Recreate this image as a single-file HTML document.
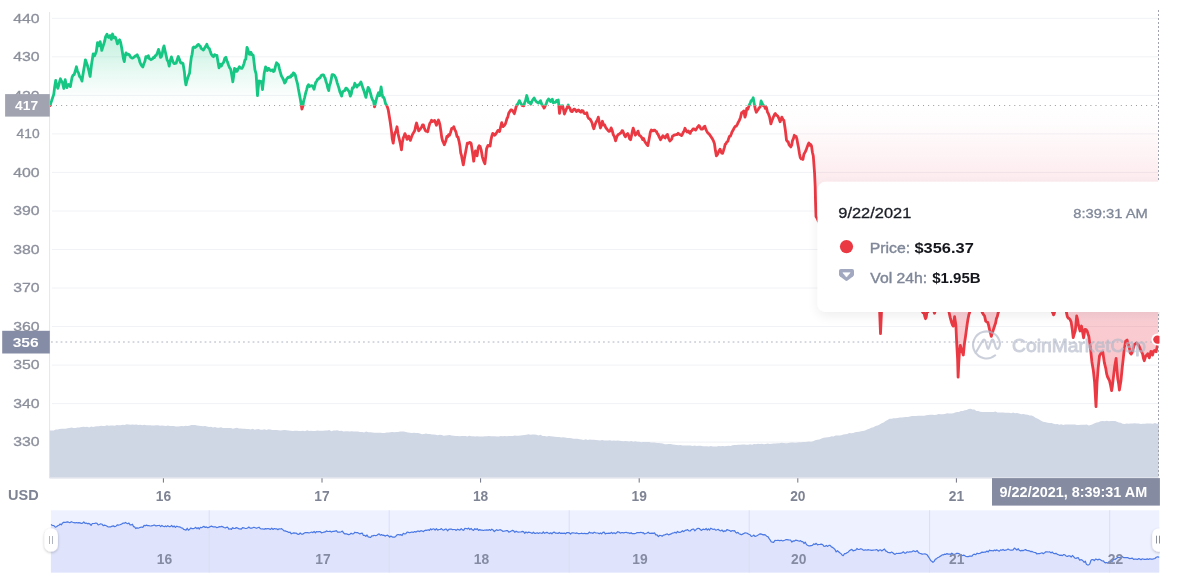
<!DOCTYPE html><html><head><meta charset="utf-8"><title>chart</title>
<style>html,body{margin:0;padding:0;background:#fff;}body{width:1178px;height:579px;overflow:hidden;font-family:"Liberation Sans",sans-serif;}svg{display:block}text{font-family:"Liberation Sans",sans-serif;}svg{will-change:transform;}</style></head><body>
<svg width="1178" height="579" viewBox="0 0 1178 579">
<defs>
<linearGradient id="gg" gradientUnits="userSpaceOnUse" x1="0" y1="30" x2="0" y2="105.5"><stop offset="0" stop-color="#16c784" stop-opacity="0.28"/><stop offset="0.55" stop-color="#16c784" stop-opacity="0.105"/><stop offset="0.85" stop-color="#16c784" stop-opacity="0.02"/><stop offset="1" stop-color="#16c784" stop-opacity="0"/></linearGradient>
<linearGradient id="rg" gradientUnits="userSpaceOnUse" x1="0" y1="105.5" x2="0" y2="408"><stop offset="0" stop-color="#ea3958" stop-opacity="0"/><stop offset="0.06" stop-color="#ea3958" stop-opacity="0.012"/><stop offset="0.23" stop-color="#ea3958" stop-opacity="0.092"/><stop offset="0.71" stop-color="#ea3950" stop-opacity="0.25"/><stop offset="1" stop-color="#ea3943" stop-opacity="0.33"/></linearGradient>
<clipPath id="cu"><rect x="50.0" y="0" width="1108.5" height="105.5"/></clipPath>
<clipPath id="cd"><rect x="50.0" y="105.5" width="1108.5" height="372.5"/></clipPath>
<clipPath id="cp"><rect x="50.0" y="0" width="1109.5" height="478"/></clipPath>
<filter id="sh" x="-10%" y="-20%" width="120%" height="150%"><feGaussianBlur in="SourceAlpha" stdDeviation="6"/><feOffset dx="0" dy="4"/><feComponentTransfer><feFuncA type="linear" slope="0.07"/></feComponentTransfer><feMerge><feMergeNode/><feMergeNode in="SourceGraphic"/></feMerge></filter>
<filter id="sh2" x="-50%" y="-30%" width="200%" height="180%"><feGaussianBlur in="SourceAlpha" stdDeviation="1.5"/><feOffset dx="0" dy="1"/><feComponentTransfer><feFuncA type="linear" slope="0.25"/></feComponentTransfer><feMerge><feMergeNode/><feMergeNode in="SourceGraphic"/></feMerge></filter>
</defs>
<rect width="1178" height="579" fill="#fff"/>
<line x1="52" x2="1158.5" y1="442.1" y2="442.1" stroke="#f1f2f5" stroke-width="1"/>
<line x1="52" x2="1158.5" y1="403.6" y2="403.6" stroke="#f1f2f5" stroke-width="1"/>
<line x1="52" x2="1158.5" y1="365.1" y2="365.1" stroke="#f1f2f5" stroke-width="1"/>
<line x1="52" x2="1158.5" y1="326.5" y2="326.5" stroke="#f1f2f5" stroke-width="1"/>
<line x1="52" x2="1158.5" y1="288.0" y2="288.0" stroke="#f1f2f5" stroke-width="1"/>
<line x1="52" x2="1158.5" y1="249.5" y2="249.5" stroke="#f1f2f5" stroke-width="1"/>
<line x1="52" x2="1158.5" y1="211.0" y2="211.0" stroke="#f1f2f5" stroke-width="1"/>
<line x1="52" x2="1158.5" y1="172.4" y2="172.4" stroke="#f1f2f5" stroke-width="1"/>
<line x1="52" x2="1158.5" y1="133.9" y2="133.9" stroke="#f1f2f5" stroke-width="1"/>
<line x1="52" x2="1158.5" y1="95.4" y2="95.4" stroke="#f1f2f5" stroke-width="1"/>
<line x1="52" x2="1158.5" y1="56.8" y2="56.8" stroke="#f1f2f5" stroke-width="1"/>
<line x1="52" x2="1158.5" y1="18.3" y2="18.3" stroke="#f1f2f5" stroke-width="1"/>
<line x1="49.6" x2="49.6" y1="12" y2="478" stroke="#e4e6ea" stroke-width="1"/>
<path d="M49.8,430.5 L51.8,430.4 L53.7,430.4 L55.7,429.4 L57.7,429.6 L59.6,429.0 L61.6,428.8 L63.6,428.7 L65.6,428.7 L67.5,428.3 L69.5,428.1 L71.5,427.6 L73.4,428.0 L75.4,427.9 L77.4,427.5 L79.3,427.5 L81.3,427.1 L83.3,426.8 L85.2,426.9 L87.2,426.7 L89.2,427.5 L91.1,426.5 L93.1,426.9 L95.1,426.4 L97.0,426.3 L99.0,426.2 L101.0,425.8 L102.9,426.1 L104.9,425.9 L106.9,425.3 L108.9,425.8 L110.8,425.6 L112.8,425.5 L114.8,425.7 L116.8,425.1 L118.7,425.2 L120.7,425.2 L122.7,424.7 L124.7,425.1 L126.6,424.3 L128.6,424.5 L130.6,424.8 L132.5,424.5 L134.5,424.8 L136.4,424.5 L138.4,425.0 L140.4,424.7 L142.3,425.2 L144.3,424.8 L146.2,425.3 L148.2,425.2 L150.2,425.3 L152.1,425.4 L154.1,425.5 L156.0,425.2 L158.0,425.3 L160.0,425.7 L162.0,425.6 L164.0,425.8 L166.0,426.1 L167.9,425.6 L169.9,426.0 L171.9,426.1 L173.9,426.1 L175.9,426.6 L177.9,426.6 L179.8,426.2 L181.7,426.0 L183.6,426.3 L185.5,425.8 L187.4,425.9 L189.3,425.7 L191.2,425.0 L193.1,425.0 L195.0,425.1 L197.0,425.4 L199.0,425.7 L201.0,426.0 L203.0,426.3 L205.0,426.1 L207.0,426.4 L209.0,426.9 L211.0,426.8 L213.0,427.4 L215.0,427.0 L217.0,427.7 L219.0,427.7 L221.0,427.3 L223.0,428.1 L224.9,428.1 L226.9,428.1 L228.9,427.9 L230.9,428.1 L232.9,428.7 L234.9,428.2 L236.9,427.7 L238.9,428.4 L240.8,428.4 L242.8,428.8 L244.8,428.8 L246.8,428.9 L248.8,428.9 L250.7,429.4 L252.7,428.8 L254.7,429.8 L256.6,429.2 L258.6,429.1 L260.6,429.7 L262.5,429.7 L264.5,429.3 L266.5,429.9 L268.4,429.3 L270.4,429.6 L272.4,430.1 L274.3,429.9 L276.3,429.9 L278.4,430.2 L280.4,430.4 L282.5,430.2 L284.5,429.9 L286.6,430.3 L288.6,430.6 L290.7,430.8 L292.8,431.1 L294.8,430.7 L296.9,430.7 L298.9,430.9 L301.0,431.1 L303.0,430.7 L305.0,431.3 L307.1,430.2 L309.1,431.1 L311.1,430.7 L313.1,430.9 L315.2,431.0 L317.2,430.5 L319.2,430.7 L321.2,430.8 L323.3,430.8 L325.3,430.4 L327.3,430.4 L329.3,430.1 L331.4,431.2 L333.4,430.5 L335.4,430.5 L337.4,430.3 L339.5,431.0 L341.5,430.7 L343.6,431.4 L345.6,431.3 L347.7,431.3 L349.8,431.6 L351.8,431.2 L353.9,431.5 L355.9,431.6 L357.9,431.6 L360.0,432.0 L362.1,432.0 L364.1,432.5 L366.2,431.4 L368.2,432.2 L370.3,432.2 L372.4,432.4 L374.4,432.7 L376.5,432.8 L378.5,432.8 L380.6,432.7 L382.6,433.0 L384.7,433.0 L386.6,432.4 L388.5,432.6 L390.4,432.2 L392.3,432.0 L394.3,432.2 L396.2,432.0 L398.1,431.9 L400.0,431.4 L401.9,431.5 L403.9,431.5 L405.9,432.1 L407.9,432.4 L409.9,432.8 L411.9,433.0 L414.0,432.7 L416.0,433.0 L418.0,433.1 L420.0,433.6 L422.0,434.3 L424.0,434.1 L426.0,433.6 L427.9,433.9 L429.9,434.1 L431.9,434.6 L433.9,434.6 L435.8,434.8 L437.8,435.3 L439.8,434.8 L441.8,434.9 L443.7,435.8 L445.7,435.5 L447.7,435.3 L449.7,435.1 L451.6,435.4 L453.6,435.7 L455.6,436.0 L457.5,436.0 L459.5,436.2 L461.4,436.0 L463.4,435.9 L465.4,435.9 L467.3,436.6 L469.3,435.7 L471.2,436.2 L473.2,436.2 L475.2,436.4 L477.1,436.2 L479.1,436.5 L481.0,436.6 L483.0,436.4 L485.0,436.3 L487.0,436.3 L488.9,436.1 L490.9,436.2 L492.9,436.2 L494.9,436.3 L496.9,436.5 L498.8,436.5 L500.8,436.0 L502.8,436.2 L504.8,436.1 L506.8,436.2 L508.7,436.0 L510.7,436.0 L512.7,435.9 L514.7,435.6 L516.6,435.8 L518.6,435.8 L520.6,435.5 L522.5,435.3 L524.5,435.1 L526.5,434.8 L528.5,434.3 L530.4,434.8 L532.4,434.5 L534.4,434.6 L536.5,434.7 L538.5,435.4 L540.6,434.8 L542.6,435.9 L544.7,435.9 L546.8,436.5 L548.8,435.9 L550.9,436.3 L552.9,436.4 L555.0,436.7 L557.0,436.9 L559.0,436.9 L561.1,437.6 L563.1,437.3 L565.2,437.6 L567.2,438.1 L569.3,438.0 L571.4,438.2 L573.4,438.7 L575.5,438.7 L577.5,438.7 L579.6,439.2 L581.6,439.4 L583.6,439.9 L585.7,439.3 L587.8,439.9 L589.8,439.5 L591.9,439.7 L593.9,439.8 L596.0,440.1 L598.0,440.3 L600.1,440.6 L602.1,440.1 L604.2,440.6 L606.2,440.5 L608.1,440.6 L610.0,440.3 L611.9,440.8 L613.9,440.5 L615.8,440.7 L617.7,440.6 L619.6,440.8 L621.6,441.1 L623.5,441.2 L625.5,440.9 L627.4,441.3 L629.4,441.6 L631.4,441.1 L633.3,441.8 L635.3,441.2 L637.2,441.7 L639.2,441.8 L641.2,442.2 L643.1,442.0 L645.1,441.9 L647.0,441.9 L649.0,442.1 L651.0,442.6 L652.9,442.5 L654.9,442.6 L656.9,443.1 L658.8,443.0 L660.8,443.3 L662.8,443.4 L664.7,444.2 L666.7,444.3 L668.7,444.1 L670.6,443.9 L672.6,444.6 L674.6,444.7 L676.5,445.0 L678.5,445.2 L680.5,445.1 L682.5,445.5 L684.6,445.6 L686.6,445.5 L688.6,445.4 L690.6,445.5 L692.7,445.9 L694.7,445.5 L696.7,445.9 L698.7,445.8 L700.8,445.7 L702.8,446.3 L704.8,446.2 L706.8,446.3 L708.9,446.6 L710.9,446.1 L712.9,446.6 L714.9,446.5 L716.8,446.6 L718.8,445.9 L720.7,446.3 L722.7,446.0 L724.7,446.2 L726.6,446.0 L728.6,445.7 L730.5,446.0 L732.5,445.3 L734.5,445.1 L736.4,445.0 L738.4,444.7 L740.3,444.8 L742.3,444.5 L744.3,444.6 L746.2,444.7 L748.2,444.7 L750.1,444.3 L752.1,444.7 L754.1,444.1 L756.0,444.2 L758.0,443.7 L759.9,443.9 L761.9,443.8 L763.9,444.3 L765.8,444.0 L767.8,443.6 L769.7,443.9 L771.7,443.7 L773.7,443.5 L775.6,443.5 L777.6,443.3 L779.6,443.2 L781.5,442.8 L783.5,443.1 L785.5,443.3 L787.4,443.2 L789.4,442.7 L791.4,442.5 L793.3,442.5 L795.3,442.7 L797.2,442.5 L799.2,442.2 L801.2,442.3 L803.1,442.0 L805.1,442.1 L807.1,441.8 L809.0,441.4 L811.0,441.7 L813.1,441.3 L815.2,440.2 L817.3,439.8 L819.4,439.4 L821.5,438.5 L823.6,437.8 L825.7,437.5 L827.7,437.2 L829.6,437.0 L831.6,436.2 L833.5,436.5 L835.5,435.4 L837.5,435.4 L839.4,435.4 L841.4,435.2 L843.3,434.4 L845.3,434.2 L847.3,434.0 L849.2,433.1 L851.2,433.3 L853.2,432.9 L855.1,432.2 L857.1,432.1 L859.1,431.8 L861.1,431.3 L863.0,430.9 L865.0,430.5 L867.1,429.4 L869.2,428.8 L871.3,427.7 L873.4,427.3 L875.5,426.1 L877.6,425.5 L879.7,424.5 L881.7,423.3 L883.6,422.6 L885.6,420.9 L887.5,420.1 L889.5,418.7 L891.5,418.7 L893.6,418.2 L895.6,418.2 L897.7,418.0 L899.7,417.5 L901.8,417.5 L903.8,417.2 L905.8,417.0 L907.9,417.1 L909.9,416.4 L912.0,416.0 L914.0,416.0 L916.0,415.9 L918.1,415.7 L920.1,415.7 L922.2,415.7 L924.2,415.8 L926.3,415.3 L928.4,415.1 L930.4,414.7 L932.5,414.8 L934.5,414.9 L936.6,414.7 L938.6,414.0 L940.7,414.3 L942.8,414.3 L944.9,414.0 L947.0,413.3 L949.1,413.4 L951.2,413.5 L953.3,413.2 L955.2,412.5 L957.1,412.0 L959.0,412.0 L960.9,410.9 L962.9,411.1 L964.8,410.3 L966.7,409.9 L968.6,409.0 L970.5,408.7 L972.5,409.6 L974.4,409.6 L976.4,411.1 L978.3,410.9 L980.3,411.7 L982.2,411.9 L984.1,412.0 L986.0,412.1 L987.9,411.9 L989.8,412.0 L991.7,412.1 L993.6,412.1 L995.5,411.6 L997.4,412.4 L999.4,412.5 L1001.3,412.5 L1003.3,412.4 L1005.2,412.7 L1007.2,412.7 L1009.2,412.8 L1011.1,413.2 L1013.1,412.6 L1015.0,413.2 L1017.0,413.1 L1019.1,413.5 L1021.2,414.3 L1023.3,414.0 L1025.5,414.6 L1027.6,414.8 L1029.7,415.6 L1031.8,415.6 L1033.8,416.4 L1035.9,418.0 L1037.9,418.8 L1039.9,419.9 L1042.0,421.3 L1044.0,422.0 L1045.9,422.3 L1047.8,422.7 L1049.7,423.0 L1051.6,423.0 L1053.6,423.7 L1055.5,424.2 L1057.4,423.9 L1059.3,424.7 L1061.2,424.3 L1063.2,424.9 L1065.1,424.5 L1067.1,424.6 L1069.1,424.6 L1071.0,424.5 L1073.0,424.4 L1075.0,424.6 L1076.9,425.1 L1078.9,425.1 L1080.9,424.7 L1082.8,424.7 L1084.8,424.7 L1086.8,424.6 L1088.7,425.4 L1090.7,425.1 L1092.7,424.2 L1094.6,423.3 L1096.6,422.4 L1098.5,422.2 L1100.5,421.2 L1102.6,420.9 L1104.7,421.3 L1106.8,420.8 L1108.9,421.3 L1111.0,420.9 L1113.1,421.0 L1115.2,421.1 L1117.0,421.8 L1118.9,422.6 L1120.8,422.8 L1122.6,423.8 L1124.6,423.9 L1126.6,423.6 L1128.6,423.7 L1130.7,423.4 L1132.7,423.6 L1134.7,423.3 L1136.7,423.6 L1138.7,423.6 L1140.8,423.9 L1142.8,423.8 L1144.8,423.8 L1146.8,423.5 L1148.8,423.5 L1150.8,423.5 L1152.9,423.7 L1154.9,423.1 L1156.9,423.8 L1158.9,423.4 L1158.5,477.6 L49.8,477.6Z" fill="#cfd6e4"/>
<line x1="49.5" x2="1158.5" y1="478" y2="478" stroke="#d8dce6" stroke-width="1"/>
<path d="M50.0,105.5 L50.9,102.7 L51.7,100.5 L52.8,97.1 L53.8,94.2 L54.7,86.6 L55.7,80.4 L56.7,85.2 L57.8,88.4 L58.6,85.9 L59.5,82.1 L60.4,78.8 L61.4,81.0 L62.4,82.5 L63.8,88.5 L65.2,79.7 L66.1,84.3 L66.9,87.7 L67.8,85.1 L68.7,84.5 L69.5,85.3 L70.4,86.6 L71.2,81.7 L72.1,77.2 L73.1,75.2 L74.2,74.5 L75.3,71.0 L76.4,66.8 L77.5,71.2 L78.5,72.9 L79.6,76.5 L80.8,77.9 L82.0,81.1 L82.8,75.4 L83.7,70.1 L84.5,65.4 L85.4,59.8 L86.5,62.8 L87.7,66.3 L88.9,71.0 L90.1,76.5 L91.5,64.6 L92.3,59.5 L93.2,53.8 L94.6,55.8 L95.4,53.7 L96.3,51.5 L97.5,42.7 L98.9,45.8 L100.1,41.6 L100.9,45.3 L101.8,50.4 L102.8,47.2 L103.9,43.7 L104.7,41.0 L105.6,36.6 L107.0,34.1 L107.9,36.7 L108.7,37.4 L110.1,35.6 L111.3,39.4 L112.5,34.0 L113.9,37.9 L115.3,37.1 L116.3,39.7 L117.4,43.9 L118.5,41.3 L119.6,39.8 L120.6,42.3 L121.7,48.0 L122.5,53.0 L123.4,58.3 L124.3,61.6 L125.1,56.0 L126.0,52.9 L127.1,54.5 L128.3,54.2 L129.4,55.0 L130.6,57.1 L131.8,58.0 L132.9,58.0 L133.8,57.3 L134.6,56.6 L135.5,55.9 L136.4,55.5 L137.2,54.7 L138.1,57.3 L138.9,57.9 L139.8,61.9 L140.8,64.2 L141.9,65.9 L142.9,66.9 L143.9,63.5 L144.9,61.3 L145.9,56.6 L146.7,56.7 L147.6,57.4 L148.4,55.8 L149.3,58.7 L150.2,59.0 L151.0,59.7 L151.9,59.1 L152.8,58.5 L153.6,57.2 L154.5,57.5 L155.4,55.5 L156.2,55.3 L157.3,53.2 L158.5,49.4 L159.5,52.5 L160.5,57.4 L161.4,56.6 L162.3,53.5 L163.1,48.7 L164.0,45.9 L165.0,50.5 L166.1,55.3 L167.1,60.0 L168.1,61.5 L169.2,66.2 L170.3,60.4 L171.4,56.9 L172.3,59.7 L173.1,62.1 L174.0,63.5 L175.0,63.5 L176.1,63.2 L177.2,59.8 L178.3,56.5 L179.4,59.2 L180.4,62.4 L181.3,63.1 L182.1,62.9 L183.0,63.4 L184.4,72.0 L185.1,79.9 L185.9,84.9 L186.9,81.0 L187.8,77.7 L188.7,75.3 L189.6,73.0 L190.4,64.6 L191.3,57.3 L192.1,54.3 L193.0,47.7 L194.0,47.0 L195.0,47.5 L195.9,46.9 L196.8,46.1 L197.7,44.7 L198.5,44.4 L199.4,45.6 L200.3,46.1 L201.1,48.4 L202.2,49.2 L203.4,50.0 L204.2,48.7 L205.1,47.2 L206.0,45.9 L206.8,44.3 L207.7,46.7 L208.5,48.0 L209.4,48.7 L210.3,51.6 L211.2,54.0 L212.3,55.7 L213.5,56.7 L214.6,54.6 L215.8,55.4 L216.9,55.3 L218.0,61.9 L219.0,67.8 L220.1,64.2 L221.3,66.1 L222.5,63.6 L223.6,62.3 L224.8,58.2 L225.9,57.2 L226.8,60.7 L227.6,62.2 L228.5,65.0 L229.6,67.7 L230.7,69.3 L231.8,75.2 L232.8,81.8 L233.7,75.7 L234.5,68.3 L235.4,71.4 L236.3,69.2 L237.1,71.2 L238.3,68.6 L239.4,66.7 L240.6,68.1 L241.8,68.4 L242.9,66.7 L244.0,63.6 L244.9,60.2 L245.8,59.1 L247.0,47.3 L248.1,50.3 L249.2,54.1 L250.1,54.3 L250.9,52.2 L252.1,54.9 L253.2,55.1 L254.1,62.7 L254.9,69.7 L256.1,73.8 L257.5,95.6 L258.3,87.1 L259.1,80.9 L259.9,81.7 L260.8,81.3 L261.7,83.6 L262.5,89.5 L263.4,81.2 L264.2,73.3 L265.6,66.8 L266.5,68.7 L267.4,70.6 L268.2,68.4 L269.1,68.7 L269.9,70.1 L270.8,70.7 L271.7,70.0 L272.5,69.8 L273.4,71.5 L274.3,71.0 L275.4,66.7 L276.5,62.8 L277.5,63.8 L278.6,65.0 L279.4,68.9 L280.3,72.1 L281.4,75.9 L282.6,78.0 L283.6,80.0 L284.6,83.0 L285.5,82.0 L286.4,79.6 L287.2,78.3 L288.1,77.2 L288.9,77.5 L289.8,76.6 L290.7,77.1 L291.5,75.0 L292.4,75.5 L293.3,72.9 L294.1,73.2 L295.3,75.0 L296.4,79.9 L297.4,83.3 L298.4,89.1 L299.3,93.7 L300.2,98.6 L301.0,103.3 L301.9,109.0 L302.8,106.5 L303.6,101.2 L304.7,97.3 L305.7,92.9 L306.6,89.8 L307.5,86.3 L308.5,84.6 L309.5,86.5 L310.5,86.0 L311.6,85.6 L312.6,86.0 L314.0,89.3 L314.9,85.6 L315.7,82.4 L316.6,81.4 L317.4,79.5 L318.3,79.1 L319.2,77.9 L320.0,78.0 L320.9,76.0 L321.8,75.1 L322.6,74.9 L323.5,74.8 L324.4,76.9 L325.2,78.3 L326.1,82.0 L326.9,84.0 L327.8,88.1 L328.7,90.6 L329.5,85.4 L330.4,83.3 L331.3,78.9 L332.1,74.6 L333.2,74.6 L334.4,75.4 L335.4,77.1 L336.4,79.8 L337.3,83.1 L338.2,85.9 L339.0,88.3 L339.9,91.9 L340.8,93.9 L341.6,96.1 L342.7,91.7 L343.7,91.1 L344.8,90.6 L345.9,88.1 L347.1,88.7 L348.2,90.6 L349.2,91.6 L350.3,96.1 L351.3,94.0 L352.3,87.9 L352.5,88.7 L353.7,87.4 L354.8,83.3 L355.9,85.5 L356.9,87.1 L357.9,85.2 L359.0,85.0 L359.9,83.6 L360.9,81.9 L361.9,85.0 L363.0,88.4 L363.9,90.6 L364.9,94.0 L365.9,97.4 L367.0,92.5 L368.1,87.4 L369.3,89.1 L370.4,92.8 L371.4,96.7 L372.5,99.9 L373.5,101.1 L374.5,106.8 L375.6,102.3 L376.8,97.7 L377.6,95.3 L378.5,92.8 L379.7,95.6 L381.1,87.0 L382.0,93.2 L382.8,97.2 L383.7,97.4 L384.5,99.3 L385.6,103.8 L386.6,105.3 L387.5,107.4 L388.3,110.2 L389.2,115.8 L390.1,121.2 L391.5,131.4 L392.3,139.0 L393.2,143.2 L394.0,137.2 L394.9,133.0 L395.9,131.3 L397.0,126.8 L398.1,134.0 L399.2,138.8 L400.3,143.5 L401.5,149.9 L402.3,142.5 L403.2,138.3 L404.1,135.9 L404.9,133.6 L406.0,135.8 L407.0,139.4 L407.9,138.1 L408.7,136.1 L409.6,138.7 L410.4,140.4 L411.5,137.0 L412.5,134.5 L413.6,132.6 L414.8,130.5 L415.6,126.4 L416.5,123.0 L417.6,126.8 L418.7,130.9 L419.8,129.5 L420.8,128.3 L421.7,127.0 L422.5,124.9 L423.4,124.9 L424.5,128.6 L425.6,131.0 L426.7,131.1 L427.7,131.8 L428.8,127.0 L429.8,123.3 L430.7,122.2 L431.5,120.2 L432.6,121.5 L433.8,121.0 L434.6,120.4 L435.5,122.8 L436.4,125.3 L437.4,122.3 L438.4,120.0 L439.2,122.1 L440.0,125.1 L440.9,131.3 L441.7,137.1 L442.6,140.8 L443.5,142.7 L444.3,144.8 L445.2,142.4 L446.0,140.3 L446.9,136.4 L447.8,136.7 L448.6,134.7 L449.5,135.2 L450.6,132.4 L451.7,128.3 L452.8,128.4 L453.8,126.8 L454.9,129.9 L455.9,131.7 L457.0,136.4 L458.1,137.4 L459.0,141.1 L459.9,145.7 L460.7,152.9 L461.6,155.9 L462.5,161.0 L463.3,164.9 L464.4,158.6 L465.6,152.2 L466.4,147.9 L467.3,143.2 L468.3,143.5 L469.4,142.4 L470.2,142.6 L471.1,143.3 L472.0,149.1 L472.8,154.3 L473.7,161.2 L474.5,155.8 L475.4,151.0 L476.3,152.6 L477.1,155.8 L478.3,147.4 L479.2,145.8 L480.1,146.4 L481.2,150.1 L482.3,156.6 L483.2,159.6 L484.0,161.9 L484.9,163.7 L485.8,156.2 L486.6,148.6 L488.0,145.4 L489.1,145.6 L490.1,146.0 L490.9,140.2 L491.8,136.1 L492.7,133.4 L493.5,133.8 L494.4,135.2 L495.3,134.7 L496.1,133.5 L497.0,132.0 L497.9,130.4 L498.7,130.4 L499.6,131.5 L500.6,127.0 L501.7,122.7 L503.0,126.6 L504.2,125.5 L505.3,124.2 L506.1,121.6 L507.0,118.5 L507.9,116.8 L508.7,113.3 L509.8,111.5 L510.8,109.9 L511.8,109.8 L512.9,111.1 L514.3,113.7 L515.1,111.0 L516.0,107.1 L516.9,104.9 L517.7,104.2 L518.6,102.3 L519.4,100.6 L520.3,102.4 L521.2,103.9 L522.0,105.3 L522.9,105.6 L523.8,105.9 L524.6,102.8 L525.5,100.7 L526.7,95.5 L527.6,98.6 L528.4,102.5 L529.6,102.1 L530.7,104.2 L531.5,102.6 L532.4,100.3 L533.3,99.2 L534.1,98.0 L535.3,100.2 L536.4,101.8 L537.4,102.4 L538.4,103.0 L539.5,101.9 L540.5,100.7 L541.4,103.5 L542.2,105.1 L543.2,106.2 L544.1,108.1 L545.2,106.0 L546.2,103.9 L547.3,100.7 L548.5,99.0 L549.5,99.9 L550.5,101.6 L551.4,100.9 L552.3,99.2 L553.3,102.8 L554.3,102.3 L555.5,102.3 L556.6,100.4 L557.4,101.4 L558.3,100.0 L559.5,113.4 L560.9,106.0 L561.8,106.0 L562.6,105.8 L563.5,109.6 L564.4,114.1 L565.2,112.1 L566.1,109.7 L567.1,107.6 L568.2,105.0 L569.0,107.2 L569.9,108.2 L571.0,111.2 L572.1,111.6 L573.0,110.4 L573.9,109.2 L574.7,109.2 L575.6,110.2 L576.4,111.5 L577.3,110.8 L578.2,109.9 L579.0,110.3 L579.9,111.6 L580.8,112.2 L581.9,110.5 L583.0,110.8 L584.0,113.3 L585.1,113.7 L585.9,113.5 L586.8,112.7 L587.8,117.0 L588.9,118.6 L590.0,119.1 L591.0,120.6 L592.1,123.0 L592.9,126.3 L593.8,128.8 L594.9,125.3 L596.0,122.1 L597.2,120.4 L598.3,117.1 L599.3,122.6 L600.4,128.0 L601.4,125.4 L602.4,121.3 L603.6,125.0 L604.7,124.9 L605.8,127.7 L606.9,129.0 L608.0,130.5 L609.0,131.3 L610.0,131.1 L611.1,127.9 L612.2,130.4 L613.3,134.8 L614.4,136.6 L615.6,140.8 L616.6,137.5 L617.6,135.2 L618.5,134.4 L619.4,134.0 L620.2,133.2 L621.1,132.7 L622.0,130.7 L622.8,130.9 L623.7,133.2 L624.5,135.4 L625.4,136.9 L626.5,134.5 L627.7,133.6 L628.6,135.2 L629.6,138.8 L630.6,139.8 L631.5,135.8 L632.3,131.7 L633.2,128.1 L634.2,131.1 L635.3,135.2 L636.2,134.1 L637.1,132.8 L638.0,131.1 L639.2,135.2 L640.4,135.9 L641.6,137.4 L642.7,139.6 L643.5,138.4 L644.4,140.6 L645.3,142.2 L646.1,143.5 L647.0,144.8 L647.9,145.6 L648.7,141.3 L649.6,136.5 L650.4,132.1 L651.3,130.0 L652.2,130.5 L653.0,130.9 L653.9,130.1 L654.8,130.1 L655.6,131.2 L656.5,131.6 L657.4,133.8 L658.2,134.6 L659.3,137.2 L660.5,139.7 L661.7,137.8 L662.9,135.7 L664.0,137.0 L665.1,138.0 L666.3,135.7 L667.4,134.4 L668.6,138.5 L669.8,141.0 L670.7,140.1 L671.6,139.3 L672.6,136.0 L673.5,135.7 L674.5,134.9 L675.5,134.9 L676.4,134.4 L677.2,134.5 L678.1,133.3 L678.9,134.1 L679.8,134.7 L680.7,134.7 L681.5,135.6 L682.4,134.3 L683.3,132.1 L684.1,131.1 L685.0,128.3 L686.0,130.4 L687.1,131.9 L688.2,131.0 L689.3,132.6 L690.2,133.3 L691.0,131.1 L691.9,130.6 L692.8,129.3 L693.6,128.8 L694.5,129.3 L695.6,130.1 L696.7,128.5 L697.8,126.8 L698.8,125.6 L699.8,126.6 L700.9,129.0 L702.0,129.2 L703.1,128.5 L704.0,126.7 L704.9,126.3 L705.7,128.9 L706.6,130.9 L707.4,132.3 L708.3,133.4 L709.2,134.0 L710.0,135.4 L711.2,136.9 L712.3,138.7 L713.3,140.6 L714.4,143.4 L715.4,150.6 L716.4,155.9 L717.5,154.5 L718.7,151.4 L720.0,149.1 L720.9,151.1 L721.7,153.2 L722.6,153.3 L723.5,150.5 L724.3,147.8 L725.2,144.3 L726.0,143.6 L726.9,141.9 L727.8,141.4 L728.6,138.7 L729.5,136.3 L730.4,136.1 L731.2,134.3 L732.1,131.7 L733.0,130.4 L734.1,128.1 L735.2,126.4 L736.2,126.2 L737.3,124.4 L738.3,122.2 L739.3,120.6 L740.5,117.4 L741.6,112.8 L742.7,112.2 L743.8,110.9 L745.0,117.2 L745.9,114.1 L746.8,108.3 L747.9,109.1 L749.0,105.7 L750.1,103.3 L751.1,100.8 L752.1,100.2 L753.2,97.7 L754.5,105.2 L755.4,109.4 L756.3,112.2 L757.3,110.7 L758.3,109.3 L759.2,107.8 L760.1,106.9 L761.1,101.0 L762.1,103.2 L763.2,105.6 L764.2,105.8 L765.3,108.4 L766.4,107.5 L767.5,112.2 L768.6,114.2 L769.7,117.4 L770.9,123.9 L771.8,121.0 L772.7,118.8 L773.5,116.7 L774.4,114.7 L775.3,113.5 L776.1,115.1 L777.0,115.4 L777.9,116.3 L779.0,118.7 L780.1,121.7 L781.0,119.7 L781.8,117.1 L782.9,119.4 L783.9,120.5 L785.3,129.7 L786.5,140.1 L787.4,141.3 L788.2,141.9 L789.1,144.8 L789.9,145.9 L790.8,146.9 L791.7,145.2 L792.5,140.6 L793.4,138.6 L794.3,135.3 L795.1,136.3 L796.0,136.3 L796.9,139.0 L797.7,143.5 L798.6,148.1 L799.4,153.3 L800.3,157.7 L801.2,158.8 L802.0,158.6 L802.9,159.4 L803.9,154.3 L805.0,152.4 L806.1,150.1 L807.2,146.9 L808.1,144.5 L808.9,143.0 L809.8,145.2 L810.7,144.5 L811.5,145.9 L812.4,152.2 L813.3,156.0 L814.6,173.7 L815.2,186.9 L815.5,201.0 L816.0,216.4 L817.1,218.2 L818.1,220.7 L819.2,222.3 L820.1,230.2 L821.0,239.8 L821.5,262.2 L822.2,270.2 L823.0,280.2 L824.0,277.8 L825.0,274.4 L826.0,272.2 L827.0,273.8 L828.0,278.6 L829.0,279.8 L830.0,283.4 L831.0,286.6 L832.0,289.9 L833.0,289.5 L834.0,287.7 L835.0,286.2 L836.0,285.8 L837.0,285.4 L838.0,283.0 L839.0,285.0 L840.0,287.4 L841.0,288.4 L842.0,288.8 L843.0,293.6 L844.0,295.1 L845.0,294.4 L846.0,294.0 L847.0,293.3 L848.0,292.8 L849.0,291.5 L850.0,289.8 L851.0,288.2 L852.0,288.0 L853.0,290.8 L854.0,291.1 L855.0,293.2 L856.0,296.0 L857.0,296.5 L858.0,299.9 L859.0,299.2 L860.0,299.4 L861.0,297.9 L862.0,297.3 L863.0,297.2 L864.0,297.0 L865.0,296.0 L866.0,296.0 L867.0,298.1 L868.0,299.9 L869.0,301.9 L870.0,301.4 L871.0,303.2 L872.0,304.2 L873.0,307.3 L873.9,305.9 L874.9,307.2 L875.8,308.4 L876.8,307.7 L877.7,309.9 L878.6,310.2 L879.6,310.4 L880.5,333.6 L881.5,311.4 L882.6,308.8 L883.6,310.1 L884.7,308.9 L885.8,308.4 L886.8,307.6 L887.9,307.5 L888.9,305.6 L890.0,305.3 L891.0,304.0 L892.0,304.3 L893.0,302.5 L894.0,302.4 L895.0,303.3 L896.0,301.6 L897.0,300.5 L898.0,299.6 L899.0,300.1 L900.0,301.7 L901.0,303.0 L902.0,303.3 L903.0,304.2 L904.0,304.5 L905.0,306.3 L906.0,305.9 L907.0,304.8 L908.0,305.2 L909.0,303.8 L910.0,302.8 L911.0,301.8 L912.0,301.3 L913.0,301.2 L914.0,300.1 L915.0,300.4 L916.0,303.0 L917.0,304.1 L918.0,304.5 L919.0,307.3 L920.0,307.9 L921.0,309.0 L922.0,311.1 L923.0,312.8 L924.0,312.8 L924.8,316.4 L925.5,318.7 L926.2,317.4 L927.0,311.8 L928.0,311.8 L929.0,309.1 L930.0,309.0 L931.0,309.0 L932.0,305.2 L933.2,309.2 L934.5,313.2 L935.8,309.4 L937.0,305.8 L938.0,307.2 L939.0,304.9 L940.0,303.0 L941.0,304.4 L942.0,301.8 L943.0,303.5 L944.0,301.8 L945.0,304.1 L946.0,307.0 L947.0,308.1 L948.0,308.9 L949.0,311.5 L949.1,312.5 L950.3,317.9 L951.5,322.2 L952.4,324.9 L953.3,326.1 L954.6,316.6 L955.9,325.2 L956.7,343.1 L957.6,359.0 L958.1,377.1 L958.8,362.5 L959.5,351.0 L960.3,345.3 L961.1,348.1 L961.9,350.9 L963.3,355.0 L964.5,343.1 L965.4,337.2 L966.2,331.4 L967.1,324.7 L967.9,319.4 L968.8,314.9 L969.7,312.2 L970.8,307.6 L972.0,304.1 L973.0,302.4 L974.0,300.7 L975.0,301.9 L976.0,300.2 L977.0,298.6 L978.0,298.1 L979.0,300.8 L980.0,301.2 L981.0,303.9 L982.0,306.2 L982.1,312.3 L983.5,314.6 L984.6,316.0 L985.7,321.1 L986.8,321.9 L987.8,322.5 L988.7,325.7 L989.5,329.4 L990.4,332.6 L991.3,336.3 L992.1,333.3 L993.0,330.9 L993.9,328.0 L994.7,325.5 L995.6,323.0 L996.4,318.6 L997.3,316.5 L998.2,312.6 L999.1,310.9 L1000.1,309.4 L1001.0,306.1 L1002.0,304.6 L1003.0,304.3 L1004.0,303.5 L1005.0,301.2 L1006.0,301.2 L1007.0,301.0 L1008.0,299.8 L1009.0,300.7 L1010.0,301.8 L1011.0,302.5 L1012.0,303.2 L1013.0,303.6 L1014.0,303.5 L1015.0,304.4 L1016.0,304.9 L1017.0,303.9 L1018.0,303.1 L1019.0,301.0 L1020.0,301.2 L1021.0,300.6 L1022.0,299.0 L1023.0,298.9 L1024.0,298.2 L1025.0,298.6 L1026.0,301.2 L1027.0,298.2 L1028.0,300.8 L1029.0,300.3 L1030.0,303.3 L1031.0,305.4 L1032.0,303.2 L1033.0,303.6 L1034.0,303.4 L1035.0,302.3 L1036.0,302.4 L1037.0,299.7 L1038.0,301.7 L1039.0,300.8 L1040.0,300.0 L1041.0,300.3 L1042.0,302.0 L1043.0,301.9 L1044.0,303.2 L1045.0,303.3 L1046.0,302.7 L1047.0,305.2 L1048.0,306.1 L1049.0,307.9 L1050.0,307.8 L1051.0,309.7 L1052.0,311.2 L1052.8,312.9 L1053.5,314.9 L1054.2,313.8 L1055.0,309.7 L1056.0,307.5 L1057.0,308.7 L1058.0,308.2 L1059.0,306.7 L1060.0,305.3 L1061.0,305.3 L1062.0,305.9 L1063.0,308.0 L1064.0,307.7 L1065.2,308.8 L1066.4,312.1 L1067.3,316.5 L1068.2,318.1 L1069.1,318.4 L1070.1,319.6 L1071.1,321.8 L1072.2,328.9 L1073.2,337.7 L1074.2,334.1 L1075.3,330.7 L1076.7,316.0 L1077.6,319.7 L1078.4,324.9 L1079.2,328.0 L1080.1,331.0 L1081.5,326.0 L1082.5,331.6 L1083.6,337.8 L1085.0,329.3 L1086.1,329.6 L1087.1,330.8 L1087.9,333.7 L1088.8,336.3 L1089.6,342.4 L1090.4,347.7 L1091.9,361.9 L1093.3,370.2 L1094.6,382.2 L1096.0,406.7 L1097.0,383.1 L1098.1,368.6 L1099.5,355.9 L1100.4,354.3 L1101.2,353.1 L1102.0,352.3 L1102.8,352.0 L1104.3,362.4 L1105.8,368.5 L1106.6,373.6 L1107.4,376.5 L1108.4,378.5 L1109.5,380.6 L1110.5,384.9 L1111.6,390.7 L1112.4,385.9 L1113.2,378.8 L1114.7,366.5 L1116.1,358.4 L1116.9,369.0 L1117.8,379.1 L1118.6,383.4 L1119.4,390.0 L1120.9,381.0 L1122.3,366.8 L1123.2,359.2 L1124.0,351.5 L1124.8,346.3 L1125.6,341.2 L1127.1,340.1 L1128.5,345.0 L1129.4,348.2 L1130.2,352.9 L1131.2,354.1 L1132.3,352.2 L1133.3,348.5 L1134.4,344.4 L1135.4,343.9 L1136.4,343.0 L1137.5,344.0 L1138.5,345.0 L1139.5,347.2 L1140.6,349.9 L1141.6,351.7 L1142.6,354.0 L1143.5,358.6 L1144.3,360.7 L1145.8,355.9 L1146.8,355.1 L1147.8,353.7 L1149.3,357.9 L1150.1,355.0 L1150.9,351.4 L1151.8,353.4 L1152.6,355.0 L1153.6,351.1 L1154.7,350.4 L1156.1,351.8 L1157.6,344.5 L1158.4,339.0 L1158.4,105.5 L50.0,105.5Z" fill="url(#gg)" clip-path="url(#cu)"/>
<clipPath id="cdl"><rect x="50.0" y="105.5" width="718.0" height="372.5"/></clipPath>
<clipPath id="cdr"><rect x="768" y="105.5" width="390.5" height="372.5"/></clipPath>
<path d="M50.0,105.5 L50.9,102.7 L51.7,100.5 L52.8,97.1 L53.8,94.2 L54.7,86.6 L55.7,80.4 L56.7,85.2 L57.8,88.4 L58.6,85.9 L59.5,82.1 L60.4,78.8 L61.4,81.0 L62.4,82.5 L63.8,88.5 L65.2,79.7 L66.1,84.3 L66.9,87.7 L67.8,85.1 L68.7,84.5 L69.5,85.3 L70.4,86.6 L71.2,81.7 L72.1,77.2 L73.1,75.2 L74.2,74.5 L75.3,71.0 L76.4,66.8 L77.5,71.2 L78.5,72.9 L79.6,76.5 L80.8,77.9 L82.0,81.1 L82.8,75.4 L83.7,70.1 L84.5,65.4 L85.4,59.8 L86.5,62.8 L87.7,66.3 L88.9,71.0 L90.1,76.5 L91.5,64.6 L92.3,59.5 L93.2,53.8 L94.6,55.8 L95.4,53.7 L96.3,51.5 L97.5,42.7 L98.9,45.8 L100.1,41.6 L100.9,45.3 L101.8,50.4 L102.8,47.2 L103.9,43.7 L104.7,41.0 L105.6,36.6 L107.0,34.1 L107.9,36.7 L108.7,37.4 L110.1,35.6 L111.3,39.4 L112.5,34.0 L113.9,37.9 L115.3,37.1 L116.3,39.7 L117.4,43.9 L118.5,41.3 L119.6,39.8 L120.6,42.3 L121.7,48.0 L122.5,53.0 L123.4,58.3 L124.3,61.6 L125.1,56.0 L126.0,52.9 L127.1,54.5 L128.3,54.2 L129.4,55.0 L130.6,57.1 L131.8,58.0 L132.9,58.0 L133.8,57.3 L134.6,56.6 L135.5,55.9 L136.4,55.5 L137.2,54.7 L138.1,57.3 L138.9,57.9 L139.8,61.9 L140.8,64.2 L141.9,65.9 L142.9,66.9 L143.9,63.5 L144.9,61.3 L145.9,56.6 L146.7,56.7 L147.6,57.4 L148.4,55.8 L149.3,58.7 L150.2,59.0 L151.0,59.7 L151.9,59.1 L152.8,58.5 L153.6,57.2 L154.5,57.5 L155.4,55.5 L156.2,55.3 L157.3,53.2 L158.5,49.4 L159.5,52.5 L160.5,57.4 L161.4,56.6 L162.3,53.5 L163.1,48.7 L164.0,45.9 L165.0,50.5 L166.1,55.3 L167.1,60.0 L168.1,61.5 L169.2,66.2 L170.3,60.4 L171.4,56.9 L172.3,59.7 L173.1,62.1 L174.0,63.5 L175.0,63.5 L176.1,63.2 L177.2,59.8 L178.3,56.5 L179.4,59.2 L180.4,62.4 L181.3,63.1 L182.1,62.9 L183.0,63.4 L184.4,72.0 L185.1,79.9 L185.9,84.9 L186.9,81.0 L187.8,77.7 L188.7,75.3 L189.6,73.0 L190.4,64.6 L191.3,57.3 L192.1,54.3 L193.0,47.7 L194.0,47.0 L195.0,47.5 L195.9,46.9 L196.8,46.1 L197.7,44.7 L198.5,44.4 L199.4,45.6 L200.3,46.1 L201.1,48.4 L202.2,49.2 L203.4,50.0 L204.2,48.7 L205.1,47.2 L206.0,45.9 L206.8,44.3 L207.7,46.7 L208.5,48.0 L209.4,48.7 L210.3,51.6 L211.2,54.0 L212.3,55.7 L213.5,56.7 L214.6,54.6 L215.8,55.4 L216.9,55.3 L218.0,61.9 L219.0,67.8 L220.1,64.2 L221.3,66.1 L222.5,63.6 L223.6,62.3 L224.8,58.2 L225.9,57.2 L226.8,60.7 L227.6,62.2 L228.5,65.0 L229.6,67.7 L230.7,69.3 L231.8,75.2 L232.8,81.8 L233.7,75.7 L234.5,68.3 L235.4,71.4 L236.3,69.2 L237.1,71.2 L238.3,68.6 L239.4,66.7 L240.6,68.1 L241.8,68.4 L242.9,66.7 L244.0,63.6 L244.9,60.2 L245.8,59.1 L247.0,47.3 L248.1,50.3 L249.2,54.1 L250.1,54.3 L250.9,52.2 L252.1,54.9 L253.2,55.1 L254.1,62.7 L254.9,69.7 L256.1,73.8 L257.5,95.6 L258.3,87.1 L259.1,80.9 L259.9,81.7 L260.8,81.3 L261.7,83.6 L262.5,89.5 L263.4,81.2 L264.2,73.3 L265.6,66.8 L266.5,68.7 L267.4,70.6 L268.2,68.4 L269.1,68.7 L269.9,70.1 L270.8,70.7 L271.7,70.0 L272.5,69.8 L273.4,71.5 L274.3,71.0 L275.4,66.7 L276.5,62.8 L277.5,63.8 L278.6,65.0 L279.4,68.9 L280.3,72.1 L281.4,75.9 L282.6,78.0 L283.6,80.0 L284.6,83.0 L285.5,82.0 L286.4,79.6 L287.2,78.3 L288.1,77.2 L288.9,77.5 L289.8,76.6 L290.7,77.1 L291.5,75.0 L292.4,75.5 L293.3,72.9 L294.1,73.2 L295.3,75.0 L296.4,79.9 L297.4,83.3 L298.4,89.1 L299.3,93.7 L300.2,98.6 L301.0,103.3 L301.9,109.0 L302.8,106.5 L303.6,101.2 L304.7,97.3 L305.7,92.9 L306.6,89.8 L307.5,86.3 L308.5,84.6 L309.5,86.5 L310.5,86.0 L311.6,85.6 L312.6,86.0 L314.0,89.3 L314.9,85.6 L315.7,82.4 L316.6,81.4 L317.4,79.5 L318.3,79.1 L319.2,77.9 L320.0,78.0 L320.9,76.0 L321.8,75.1 L322.6,74.9 L323.5,74.8 L324.4,76.9 L325.2,78.3 L326.1,82.0 L326.9,84.0 L327.8,88.1 L328.7,90.6 L329.5,85.4 L330.4,83.3 L331.3,78.9 L332.1,74.6 L333.2,74.6 L334.4,75.4 L335.4,77.1 L336.4,79.8 L337.3,83.1 L338.2,85.9 L339.0,88.3 L339.9,91.9 L340.8,93.9 L341.6,96.1 L342.7,91.7 L343.7,91.1 L344.8,90.6 L345.9,88.1 L347.1,88.7 L348.2,90.6 L349.2,91.6 L350.3,96.1 L351.3,94.0 L352.3,87.9 L352.5,88.7 L353.7,87.4 L354.8,83.3 L355.9,85.5 L356.9,87.1 L357.9,85.2 L359.0,85.0 L359.9,83.6 L360.9,81.9 L361.9,85.0 L363.0,88.4 L363.9,90.6 L364.9,94.0 L365.9,97.4 L367.0,92.5 L368.1,87.4 L369.3,89.1 L370.4,92.8 L371.4,96.7 L372.5,99.9 L373.5,101.1 L374.5,106.8 L375.6,102.3 L376.8,97.7 L377.6,95.3 L378.5,92.8 L379.7,95.6 L381.1,87.0 L382.0,93.2 L382.8,97.2 L383.7,97.4 L384.5,99.3 L385.6,103.8 L386.6,105.3 L387.5,107.4 L388.3,110.2 L389.2,115.8 L390.1,121.2 L391.5,131.4 L392.3,139.0 L393.2,143.2 L394.0,137.2 L394.9,133.0 L395.9,131.3 L397.0,126.8 L398.1,134.0 L399.2,138.8 L400.3,143.5 L401.5,149.9 L402.3,142.5 L403.2,138.3 L404.1,135.9 L404.9,133.6 L406.0,135.8 L407.0,139.4 L407.9,138.1 L408.7,136.1 L409.6,138.7 L410.4,140.4 L411.5,137.0 L412.5,134.5 L413.6,132.6 L414.8,130.5 L415.6,126.4 L416.5,123.0 L417.6,126.8 L418.7,130.9 L419.8,129.5 L420.8,128.3 L421.7,127.0 L422.5,124.9 L423.4,124.9 L424.5,128.6 L425.6,131.0 L426.7,131.1 L427.7,131.8 L428.8,127.0 L429.8,123.3 L430.7,122.2 L431.5,120.2 L432.6,121.5 L433.8,121.0 L434.6,120.4 L435.5,122.8 L436.4,125.3 L437.4,122.3 L438.4,120.0 L439.2,122.1 L440.0,125.1 L440.9,131.3 L441.7,137.1 L442.6,140.8 L443.5,142.7 L444.3,144.8 L445.2,142.4 L446.0,140.3 L446.9,136.4 L447.8,136.7 L448.6,134.7 L449.5,135.2 L450.6,132.4 L451.7,128.3 L452.8,128.4 L453.8,126.8 L454.9,129.9 L455.9,131.7 L457.0,136.4 L458.1,137.4 L459.0,141.1 L459.9,145.7 L460.7,152.9 L461.6,155.9 L462.5,161.0 L463.3,164.9 L464.4,158.6 L465.6,152.2 L466.4,147.9 L467.3,143.2 L468.3,143.5 L469.4,142.4 L470.2,142.6 L471.1,143.3 L472.0,149.1 L472.8,154.3 L473.7,161.2 L474.5,155.8 L475.4,151.0 L476.3,152.6 L477.1,155.8 L478.3,147.4 L479.2,145.8 L480.1,146.4 L481.2,150.1 L482.3,156.6 L483.2,159.6 L484.0,161.9 L484.9,163.7 L485.8,156.2 L486.6,148.6 L488.0,145.4 L489.1,145.6 L490.1,146.0 L490.9,140.2 L491.8,136.1 L492.7,133.4 L493.5,133.8 L494.4,135.2 L495.3,134.7 L496.1,133.5 L497.0,132.0 L497.9,130.4 L498.7,130.4 L499.6,131.5 L500.6,127.0 L501.7,122.7 L503.0,126.6 L504.2,125.5 L505.3,124.2 L506.1,121.6 L507.0,118.5 L507.9,116.8 L508.7,113.3 L509.8,111.5 L510.8,109.9 L511.8,109.8 L512.9,111.1 L514.3,113.7 L515.1,111.0 L516.0,107.1 L516.9,104.9 L517.7,104.2 L518.6,102.3 L519.4,100.6 L520.3,102.4 L521.2,103.9 L522.0,105.3 L522.9,105.6 L523.8,105.9 L524.6,102.8 L525.5,100.7 L526.7,95.5 L527.6,98.6 L528.4,102.5 L529.6,102.1 L530.7,104.2 L531.5,102.6 L532.4,100.3 L533.3,99.2 L534.1,98.0 L535.3,100.2 L536.4,101.8 L537.4,102.4 L538.4,103.0 L539.5,101.9 L540.5,100.7 L541.4,103.5 L542.2,105.1 L543.2,106.2 L544.1,108.1 L545.2,106.0 L546.2,103.9 L547.3,100.7 L548.5,99.0 L549.5,99.9 L550.5,101.6 L551.4,100.9 L552.3,99.2 L553.3,102.8 L554.3,102.3 L555.5,102.3 L556.6,100.4 L557.4,101.4 L558.3,100.0 L559.5,113.4 L560.9,106.0 L561.8,106.0 L562.6,105.8 L563.5,109.6 L564.4,114.1 L565.2,112.1 L566.1,109.7 L567.1,107.6 L568.2,105.0 L569.0,107.2 L569.9,108.2 L571.0,111.2 L572.1,111.6 L573.0,110.4 L573.9,109.2 L574.7,109.2 L575.6,110.2 L576.4,111.5 L577.3,110.8 L578.2,109.9 L579.0,110.3 L579.9,111.6 L580.8,112.2 L581.9,110.5 L583.0,110.8 L584.0,113.3 L585.1,113.7 L585.9,113.5 L586.8,112.7 L587.8,117.0 L588.9,118.6 L590.0,119.1 L591.0,120.6 L592.1,123.0 L592.9,126.3 L593.8,128.8 L594.9,125.3 L596.0,122.1 L597.2,120.4 L598.3,117.1 L599.3,122.6 L600.4,128.0 L601.4,125.4 L602.4,121.3 L603.6,125.0 L604.7,124.9 L605.8,127.7 L606.9,129.0 L608.0,130.5 L609.0,131.3 L610.0,131.1 L611.1,127.9 L612.2,130.4 L613.3,134.8 L614.4,136.6 L615.6,140.8 L616.6,137.5 L617.6,135.2 L618.5,134.4 L619.4,134.0 L620.2,133.2 L621.1,132.7 L622.0,130.7 L622.8,130.9 L623.7,133.2 L624.5,135.4 L625.4,136.9 L626.5,134.5 L627.7,133.6 L628.6,135.2 L629.6,138.8 L630.6,139.8 L631.5,135.8 L632.3,131.7 L633.2,128.1 L634.2,131.1 L635.3,135.2 L636.2,134.1 L637.1,132.8 L638.0,131.1 L639.2,135.2 L640.4,135.9 L641.6,137.4 L642.7,139.6 L643.5,138.4 L644.4,140.6 L645.3,142.2 L646.1,143.5 L647.0,144.8 L647.9,145.6 L648.7,141.3 L649.6,136.5 L650.4,132.1 L651.3,130.0 L652.2,130.5 L653.0,130.9 L653.9,130.1 L654.8,130.1 L655.6,131.2 L656.5,131.6 L657.4,133.8 L658.2,134.6 L659.3,137.2 L660.5,139.7 L661.7,137.8 L662.9,135.7 L664.0,137.0 L665.1,138.0 L666.3,135.7 L667.4,134.4 L668.6,138.5 L669.8,141.0 L670.7,140.1 L671.6,139.3 L672.6,136.0 L673.5,135.7 L674.5,134.9 L675.5,134.9 L676.4,134.4 L677.2,134.5 L678.1,133.3 L678.9,134.1 L679.8,134.7 L680.7,134.7 L681.5,135.6 L682.4,134.3 L683.3,132.1 L684.1,131.1 L685.0,128.3 L686.0,130.4 L687.1,131.9 L688.2,131.0 L689.3,132.6 L690.2,133.3 L691.0,131.1 L691.9,130.6 L692.8,129.3 L693.6,128.8 L694.5,129.3 L695.6,130.1 L696.7,128.5 L697.8,126.8 L698.8,125.6 L699.8,126.6 L700.9,129.0 L702.0,129.2 L703.1,128.5 L704.0,126.7 L704.9,126.3 L705.7,128.9 L706.6,130.9 L707.4,132.3 L708.3,133.4 L709.2,134.0 L710.0,135.4 L711.2,136.9 L712.3,138.7 L713.3,140.6 L714.4,143.4 L715.4,150.6 L716.4,155.9 L717.5,154.5 L718.7,151.4 L720.0,149.1 L720.9,151.1 L721.7,153.2 L722.6,153.3 L723.5,150.5 L724.3,147.8 L725.2,144.3 L726.0,143.6 L726.9,141.9 L727.8,141.4 L728.6,138.7 L729.5,136.3 L730.4,136.1 L731.2,134.3 L732.1,131.7 L733.0,130.4 L734.1,128.1 L735.2,126.4 L736.2,126.2 L737.3,124.4 L738.3,122.2 L739.3,120.6 L740.5,117.4 L741.6,112.8 L742.7,112.2 L743.8,110.9 L745.0,117.2 L745.9,114.1 L746.8,108.3 L747.9,109.1 L749.0,105.7 L750.1,103.3 L751.1,100.8 L752.1,100.2 L753.2,97.7 L754.5,105.2 L755.4,109.4 L756.3,112.2 L757.3,110.7 L758.3,109.3 L759.2,107.8 L760.1,106.9 L761.1,101.0 L762.1,103.2 L763.2,105.6 L764.2,105.8 L765.3,108.4 L766.4,107.5 L767.5,112.2 L768.6,114.2 L769.7,117.4 L770.9,123.9 L771.8,121.0 L772.7,118.8 L773.5,116.7 L774.4,114.7 L775.3,113.5 L776.1,115.1 L777.0,115.4 L777.9,116.3 L779.0,118.7 L780.1,121.7 L781.0,119.7 L781.8,117.1 L782.9,119.4 L783.9,120.5 L785.3,129.7 L786.5,140.1 L787.4,141.3 L788.2,141.9 L789.1,144.8 L789.9,145.9 L790.8,146.9 L791.7,145.2 L792.5,140.6 L793.4,138.6 L794.3,135.3 L795.1,136.3 L796.0,136.3 L796.9,139.0 L797.7,143.5 L798.6,148.1 L799.4,153.3 L800.3,157.7 L801.2,158.8 L802.0,158.6 L802.9,159.4 L803.9,154.3 L805.0,152.4 L806.1,150.1 L807.2,146.9 L808.1,144.5 L808.9,143.0 L809.8,145.2 L810.7,144.5 L811.5,145.9 L812.4,152.2 L813.3,156.0 L814.6,173.7 L815.2,186.9 L815.5,201.0 L816.0,216.4 L817.1,218.2 L818.1,220.7 L819.2,222.3 L820.1,230.2 L821.0,239.8 L821.5,262.2 L822.2,270.2 L823.0,280.2 L824.0,277.8 L825.0,274.4 L826.0,272.2 L827.0,273.8 L828.0,278.6 L829.0,279.8 L830.0,283.4 L831.0,286.6 L832.0,289.9 L833.0,289.5 L834.0,287.7 L835.0,286.2 L836.0,285.8 L837.0,285.4 L838.0,283.0 L839.0,285.0 L840.0,287.4 L841.0,288.4 L842.0,288.8 L843.0,293.6 L844.0,295.1 L845.0,294.4 L846.0,294.0 L847.0,293.3 L848.0,292.8 L849.0,291.5 L850.0,289.8 L851.0,288.2 L852.0,288.0 L853.0,290.8 L854.0,291.1 L855.0,293.2 L856.0,296.0 L857.0,296.5 L858.0,299.9 L859.0,299.2 L860.0,299.4 L861.0,297.9 L862.0,297.3 L863.0,297.2 L864.0,297.0 L865.0,296.0 L866.0,296.0 L867.0,298.1 L868.0,299.9 L869.0,301.9 L870.0,301.4 L871.0,303.2 L872.0,304.2 L873.0,307.3 L873.9,305.9 L874.9,307.2 L875.8,308.4 L876.8,307.7 L877.7,309.9 L878.6,310.2 L879.6,310.4 L880.5,333.6 L881.5,311.4 L882.6,308.8 L883.6,310.1 L884.7,308.9 L885.8,308.4 L886.8,307.6 L887.9,307.5 L888.9,305.6 L890.0,305.3 L891.0,304.0 L892.0,304.3 L893.0,302.5 L894.0,302.4 L895.0,303.3 L896.0,301.6 L897.0,300.5 L898.0,299.6 L899.0,300.1 L900.0,301.7 L901.0,303.0 L902.0,303.3 L903.0,304.2 L904.0,304.5 L905.0,306.3 L906.0,305.9 L907.0,304.8 L908.0,305.2 L909.0,303.8 L910.0,302.8 L911.0,301.8 L912.0,301.3 L913.0,301.2 L914.0,300.1 L915.0,300.4 L916.0,303.0 L917.0,304.1 L918.0,304.5 L919.0,307.3 L920.0,307.9 L921.0,309.0 L922.0,311.1 L923.0,312.8 L924.0,312.8 L924.8,316.4 L925.5,318.7 L926.2,317.4 L927.0,311.8 L928.0,311.8 L929.0,309.1 L930.0,309.0 L931.0,309.0 L932.0,305.2 L933.2,309.2 L934.5,313.2 L935.8,309.4 L937.0,305.8 L938.0,307.2 L939.0,304.9 L940.0,303.0 L941.0,304.4 L942.0,301.8 L943.0,303.5 L944.0,301.8 L945.0,304.1 L946.0,307.0 L947.0,308.1 L948.0,308.9 L949.0,311.5 L949.1,312.5 L950.3,317.9 L951.5,322.2 L952.4,324.9 L953.3,326.1 L954.6,316.6 L955.9,325.2 L956.7,343.1 L957.6,359.0 L958.1,377.1 L958.8,362.5 L959.5,351.0 L960.3,345.3 L961.1,348.1 L961.9,350.9 L963.3,355.0 L964.5,343.1 L965.4,337.2 L966.2,331.4 L967.1,324.7 L967.9,319.4 L968.8,314.9 L969.7,312.2 L970.8,307.6 L972.0,304.1 L973.0,302.4 L974.0,300.7 L975.0,301.9 L976.0,300.2 L977.0,298.6 L978.0,298.1 L979.0,300.8 L980.0,301.2 L981.0,303.9 L982.0,306.2 L982.1,312.3 L983.5,314.6 L984.6,316.0 L985.7,321.1 L986.8,321.9 L987.8,322.5 L988.7,325.7 L989.5,329.4 L990.4,332.6 L991.3,336.3 L992.1,333.3 L993.0,330.9 L993.9,328.0 L994.7,325.5 L995.6,323.0 L996.4,318.6 L997.3,316.5 L998.2,312.6 L999.1,310.9 L1000.1,309.4 L1001.0,306.1 L1002.0,304.6 L1003.0,304.3 L1004.0,303.5 L1005.0,301.2 L1006.0,301.2 L1007.0,301.0 L1008.0,299.8 L1009.0,300.7 L1010.0,301.8 L1011.0,302.5 L1012.0,303.2 L1013.0,303.6 L1014.0,303.5 L1015.0,304.4 L1016.0,304.9 L1017.0,303.9 L1018.0,303.1 L1019.0,301.0 L1020.0,301.2 L1021.0,300.6 L1022.0,299.0 L1023.0,298.9 L1024.0,298.2 L1025.0,298.6 L1026.0,301.2 L1027.0,298.2 L1028.0,300.8 L1029.0,300.3 L1030.0,303.3 L1031.0,305.4 L1032.0,303.2 L1033.0,303.6 L1034.0,303.4 L1035.0,302.3 L1036.0,302.4 L1037.0,299.7 L1038.0,301.7 L1039.0,300.8 L1040.0,300.0 L1041.0,300.3 L1042.0,302.0 L1043.0,301.9 L1044.0,303.2 L1045.0,303.3 L1046.0,302.7 L1047.0,305.2 L1048.0,306.1 L1049.0,307.9 L1050.0,307.8 L1051.0,309.7 L1052.0,311.2 L1052.8,312.9 L1053.5,314.9 L1054.2,313.8 L1055.0,309.7 L1056.0,307.5 L1057.0,308.7 L1058.0,308.2 L1059.0,306.7 L1060.0,305.3 L1061.0,305.3 L1062.0,305.9 L1063.0,308.0 L1064.0,307.7 L1065.2,308.8 L1066.4,312.1 L1067.3,316.5 L1068.2,318.1 L1069.1,318.4 L1070.1,319.6 L1071.1,321.8 L1072.2,328.9 L1073.2,337.7 L1074.2,334.1 L1075.3,330.7 L1076.7,316.0 L1077.6,319.7 L1078.4,324.9 L1079.2,328.0 L1080.1,331.0 L1081.5,326.0 L1082.5,331.6 L1083.6,337.8 L1085.0,329.3 L1086.1,329.6 L1087.1,330.8 L1087.9,333.7 L1088.8,336.3 L1089.6,342.4 L1090.4,347.7 L1091.9,361.9 L1093.3,370.2 L1094.6,382.2 L1096.0,406.7 L1097.0,383.1 L1098.1,368.6 L1099.5,355.9 L1100.4,354.3 L1101.2,353.1 L1102.0,352.3 L1102.8,352.0 L1104.3,362.4 L1105.8,368.5 L1106.6,373.6 L1107.4,376.5 L1108.4,378.5 L1109.5,380.6 L1110.5,384.9 L1111.6,390.7 L1112.4,385.9 L1113.2,378.8 L1114.7,366.5 L1116.1,358.4 L1116.9,369.0 L1117.8,379.1 L1118.6,383.4 L1119.4,390.0 L1120.9,381.0 L1122.3,366.8 L1123.2,359.2 L1124.0,351.5 L1124.8,346.3 L1125.6,341.2 L1127.1,340.1 L1128.5,345.0 L1129.4,348.2 L1130.2,352.9 L1131.2,354.1 L1132.3,352.2 L1133.3,348.5 L1134.4,344.4 L1135.4,343.9 L1136.4,343.0 L1137.5,344.0 L1138.5,345.0 L1139.5,347.2 L1140.6,349.9 L1141.6,351.7 L1142.6,354.0 L1143.5,358.6 L1144.3,360.7 L1145.8,355.9 L1146.8,355.1 L1147.8,353.7 L1149.3,357.9 L1150.1,355.0 L1150.9,351.4 L1151.8,353.4 L1152.6,355.0 L1153.6,351.1 L1154.7,350.4 L1156.1,351.8 L1157.6,344.5 L1158.4,339.0 L1158.4,105.5 L50.0,105.5Z" fill="url(#rg)" clip-path="url(#cdl)" opacity="0.35"/>
<path d="M50.0,105.5 L50.9,102.7 L51.7,100.5 L52.8,97.1 L53.8,94.2 L54.7,86.6 L55.7,80.4 L56.7,85.2 L57.8,88.4 L58.6,85.9 L59.5,82.1 L60.4,78.8 L61.4,81.0 L62.4,82.5 L63.8,88.5 L65.2,79.7 L66.1,84.3 L66.9,87.7 L67.8,85.1 L68.7,84.5 L69.5,85.3 L70.4,86.6 L71.2,81.7 L72.1,77.2 L73.1,75.2 L74.2,74.5 L75.3,71.0 L76.4,66.8 L77.5,71.2 L78.5,72.9 L79.6,76.5 L80.8,77.9 L82.0,81.1 L82.8,75.4 L83.7,70.1 L84.5,65.4 L85.4,59.8 L86.5,62.8 L87.7,66.3 L88.9,71.0 L90.1,76.5 L91.5,64.6 L92.3,59.5 L93.2,53.8 L94.6,55.8 L95.4,53.7 L96.3,51.5 L97.5,42.7 L98.9,45.8 L100.1,41.6 L100.9,45.3 L101.8,50.4 L102.8,47.2 L103.9,43.7 L104.7,41.0 L105.6,36.6 L107.0,34.1 L107.9,36.7 L108.7,37.4 L110.1,35.6 L111.3,39.4 L112.5,34.0 L113.9,37.9 L115.3,37.1 L116.3,39.7 L117.4,43.9 L118.5,41.3 L119.6,39.8 L120.6,42.3 L121.7,48.0 L122.5,53.0 L123.4,58.3 L124.3,61.6 L125.1,56.0 L126.0,52.9 L127.1,54.5 L128.3,54.2 L129.4,55.0 L130.6,57.1 L131.8,58.0 L132.9,58.0 L133.8,57.3 L134.6,56.6 L135.5,55.9 L136.4,55.5 L137.2,54.7 L138.1,57.3 L138.9,57.9 L139.8,61.9 L140.8,64.2 L141.9,65.9 L142.9,66.9 L143.9,63.5 L144.9,61.3 L145.9,56.6 L146.7,56.7 L147.6,57.4 L148.4,55.8 L149.3,58.7 L150.2,59.0 L151.0,59.7 L151.9,59.1 L152.8,58.5 L153.6,57.2 L154.5,57.5 L155.4,55.5 L156.2,55.3 L157.3,53.2 L158.5,49.4 L159.5,52.5 L160.5,57.4 L161.4,56.6 L162.3,53.5 L163.1,48.7 L164.0,45.9 L165.0,50.5 L166.1,55.3 L167.1,60.0 L168.1,61.5 L169.2,66.2 L170.3,60.4 L171.4,56.9 L172.3,59.7 L173.1,62.1 L174.0,63.5 L175.0,63.5 L176.1,63.2 L177.2,59.8 L178.3,56.5 L179.4,59.2 L180.4,62.4 L181.3,63.1 L182.1,62.9 L183.0,63.4 L184.4,72.0 L185.1,79.9 L185.9,84.9 L186.9,81.0 L187.8,77.7 L188.7,75.3 L189.6,73.0 L190.4,64.6 L191.3,57.3 L192.1,54.3 L193.0,47.7 L194.0,47.0 L195.0,47.5 L195.9,46.9 L196.8,46.1 L197.7,44.7 L198.5,44.4 L199.4,45.6 L200.3,46.1 L201.1,48.4 L202.2,49.2 L203.4,50.0 L204.2,48.7 L205.1,47.2 L206.0,45.9 L206.8,44.3 L207.7,46.7 L208.5,48.0 L209.4,48.7 L210.3,51.6 L211.2,54.0 L212.3,55.7 L213.5,56.7 L214.6,54.6 L215.8,55.4 L216.9,55.3 L218.0,61.9 L219.0,67.8 L220.1,64.2 L221.3,66.1 L222.5,63.6 L223.6,62.3 L224.8,58.2 L225.9,57.2 L226.8,60.7 L227.6,62.2 L228.5,65.0 L229.6,67.7 L230.7,69.3 L231.8,75.2 L232.8,81.8 L233.7,75.7 L234.5,68.3 L235.4,71.4 L236.3,69.2 L237.1,71.2 L238.3,68.6 L239.4,66.7 L240.6,68.1 L241.8,68.4 L242.9,66.7 L244.0,63.6 L244.9,60.2 L245.8,59.1 L247.0,47.3 L248.1,50.3 L249.2,54.1 L250.1,54.3 L250.9,52.2 L252.1,54.9 L253.2,55.1 L254.1,62.7 L254.9,69.7 L256.1,73.8 L257.5,95.6 L258.3,87.1 L259.1,80.9 L259.9,81.7 L260.8,81.3 L261.7,83.6 L262.5,89.5 L263.4,81.2 L264.2,73.3 L265.6,66.8 L266.5,68.7 L267.4,70.6 L268.2,68.4 L269.1,68.7 L269.9,70.1 L270.8,70.7 L271.7,70.0 L272.5,69.8 L273.4,71.5 L274.3,71.0 L275.4,66.7 L276.5,62.8 L277.5,63.8 L278.6,65.0 L279.4,68.9 L280.3,72.1 L281.4,75.9 L282.6,78.0 L283.6,80.0 L284.6,83.0 L285.5,82.0 L286.4,79.6 L287.2,78.3 L288.1,77.2 L288.9,77.5 L289.8,76.6 L290.7,77.1 L291.5,75.0 L292.4,75.5 L293.3,72.9 L294.1,73.2 L295.3,75.0 L296.4,79.9 L297.4,83.3 L298.4,89.1 L299.3,93.7 L300.2,98.6 L301.0,103.3 L301.9,109.0 L302.8,106.5 L303.6,101.2 L304.7,97.3 L305.7,92.9 L306.6,89.8 L307.5,86.3 L308.5,84.6 L309.5,86.5 L310.5,86.0 L311.6,85.6 L312.6,86.0 L314.0,89.3 L314.9,85.6 L315.7,82.4 L316.6,81.4 L317.4,79.5 L318.3,79.1 L319.2,77.9 L320.0,78.0 L320.9,76.0 L321.8,75.1 L322.6,74.9 L323.5,74.8 L324.4,76.9 L325.2,78.3 L326.1,82.0 L326.9,84.0 L327.8,88.1 L328.7,90.6 L329.5,85.4 L330.4,83.3 L331.3,78.9 L332.1,74.6 L333.2,74.6 L334.4,75.4 L335.4,77.1 L336.4,79.8 L337.3,83.1 L338.2,85.9 L339.0,88.3 L339.9,91.9 L340.8,93.9 L341.6,96.1 L342.7,91.7 L343.7,91.1 L344.8,90.6 L345.9,88.1 L347.1,88.7 L348.2,90.6 L349.2,91.6 L350.3,96.1 L351.3,94.0 L352.3,87.9 L352.5,88.7 L353.7,87.4 L354.8,83.3 L355.9,85.5 L356.9,87.1 L357.9,85.2 L359.0,85.0 L359.9,83.6 L360.9,81.9 L361.9,85.0 L363.0,88.4 L363.9,90.6 L364.9,94.0 L365.9,97.4 L367.0,92.5 L368.1,87.4 L369.3,89.1 L370.4,92.8 L371.4,96.7 L372.5,99.9 L373.5,101.1 L374.5,106.8 L375.6,102.3 L376.8,97.7 L377.6,95.3 L378.5,92.8 L379.7,95.6 L381.1,87.0 L382.0,93.2 L382.8,97.2 L383.7,97.4 L384.5,99.3 L385.6,103.8 L386.6,105.3 L387.5,107.4 L388.3,110.2 L389.2,115.8 L390.1,121.2 L391.5,131.4 L392.3,139.0 L393.2,143.2 L394.0,137.2 L394.9,133.0 L395.9,131.3 L397.0,126.8 L398.1,134.0 L399.2,138.8 L400.3,143.5 L401.5,149.9 L402.3,142.5 L403.2,138.3 L404.1,135.9 L404.9,133.6 L406.0,135.8 L407.0,139.4 L407.9,138.1 L408.7,136.1 L409.6,138.7 L410.4,140.4 L411.5,137.0 L412.5,134.5 L413.6,132.6 L414.8,130.5 L415.6,126.4 L416.5,123.0 L417.6,126.8 L418.7,130.9 L419.8,129.5 L420.8,128.3 L421.7,127.0 L422.5,124.9 L423.4,124.9 L424.5,128.6 L425.6,131.0 L426.7,131.1 L427.7,131.8 L428.8,127.0 L429.8,123.3 L430.7,122.2 L431.5,120.2 L432.6,121.5 L433.8,121.0 L434.6,120.4 L435.5,122.8 L436.4,125.3 L437.4,122.3 L438.4,120.0 L439.2,122.1 L440.0,125.1 L440.9,131.3 L441.7,137.1 L442.6,140.8 L443.5,142.7 L444.3,144.8 L445.2,142.4 L446.0,140.3 L446.9,136.4 L447.8,136.7 L448.6,134.7 L449.5,135.2 L450.6,132.4 L451.7,128.3 L452.8,128.4 L453.8,126.8 L454.9,129.9 L455.9,131.7 L457.0,136.4 L458.1,137.4 L459.0,141.1 L459.9,145.7 L460.7,152.9 L461.6,155.9 L462.5,161.0 L463.3,164.9 L464.4,158.6 L465.6,152.2 L466.4,147.9 L467.3,143.2 L468.3,143.5 L469.4,142.4 L470.2,142.6 L471.1,143.3 L472.0,149.1 L472.8,154.3 L473.7,161.2 L474.5,155.8 L475.4,151.0 L476.3,152.6 L477.1,155.8 L478.3,147.4 L479.2,145.8 L480.1,146.4 L481.2,150.1 L482.3,156.6 L483.2,159.6 L484.0,161.9 L484.9,163.7 L485.8,156.2 L486.6,148.6 L488.0,145.4 L489.1,145.6 L490.1,146.0 L490.9,140.2 L491.8,136.1 L492.7,133.4 L493.5,133.8 L494.4,135.2 L495.3,134.7 L496.1,133.5 L497.0,132.0 L497.9,130.4 L498.7,130.4 L499.6,131.5 L500.6,127.0 L501.7,122.7 L503.0,126.6 L504.2,125.5 L505.3,124.2 L506.1,121.6 L507.0,118.5 L507.9,116.8 L508.7,113.3 L509.8,111.5 L510.8,109.9 L511.8,109.8 L512.9,111.1 L514.3,113.7 L515.1,111.0 L516.0,107.1 L516.9,104.9 L517.7,104.2 L518.6,102.3 L519.4,100.6 L520.3,102.4 L521.2,103.9 L522.0,105.3 L522.9,105.6 L523.8,105.9 L524.6,102.8 L525.5,100.7 L526.7,95.5 L527.6,98.6 L528.4,102.5 L529.6,102.1 L530.7,104.2 L531.5,102.6 L532.4,100.3 L533.3,99.2 L534.1,98.0 L535.3,100.2 L536.4,101.8 L537.4,102.4 L538.4,103.0 L539.5,101.9 L540.5,100.7 L541.4,103.5 L542.2,105.1 L543.2,106.2 L544.1,108.1 L545.2,106.0 L546.2,103.9 L547.3,100.7 L548.5,99.0 L549.5,99.9 L550.5,101.6 L551.4,100.9 L552.3,99.2 L553.3,102.8 L554.3,102.3 L555.5,102.3 L556.6,100.4 L557.4,101.4 L558.3,100.0 L559.5,113.4 L560.9,106.0 L561.8,106.0 L562.6,105.8 L563.5,109.6 L564.4,114.1 L565.2,112.1 L566.1,109.7 L567.1,107.6 L568.2,105.0 L569.0,107.2 L569.9,108.2 L571.0,111.2 L572.1,111.6 L573.0,110.4 L573.9,109.2 L574.7,109.2 L575.6,110.2 L576.4,111.5 L577.3,110.8 L578.2,109.9 L579.0,110.3 L579.9,111.6 L580.8,112.2 L581.9,110.5 L583.0,110.8 L584.0,113.3 L585.1,113.7 L585.9,113.5 L586.8,112.7 L587.8,117.0 L588.9,118.6 L590.0,119.1 L591.0,120.6 L592.1,123.0 L592.9,126.3 L593.8,128.8 L594.9,125.3 L596.0,122.1 L597.2,120.4 L598.3,117.1 L599.3,122.6 L600.4,128.0 L601.4,125.4 L602.4,121.3 L603.6,125.0 L604.7,124.9 L605.8,127.7 L606.9,129.0 L608.0,130.5 L609.0,131.3 L610.0,131.1 L611.1,127.9 L612.2,130.4 L613.3,134.8 L614.4,136.6 L615.6,140.8 L616.6,137.5 L617.6,135.2 L618.5,134.4 L619.4,134.0 L620.2,133.2 L621.1,132.7 L622.0,130.7 L622.8,130.9 L623.7,133.2 L624.5,135.4 L625.4,136.9 L626.5,134.5 L627.7,133.6 L628.6,135.2 L629.6,138.8 L630.6,139.8 L631.5,135.8 L632.3,131.7 L633.2,128.1 L634.2,131.1 L635.3,135.2 L636.2,134.1 L637.1,132.8 L638.0,131.1 L639.2,135.2 L640.4,135.9 L641.6,137.4 L642.7,139.6 L643.5,138.4 L644.4,140.6 L645.3,142.2 L646.1,143.5 L647.0,144.8 L647.9,145.6 L648.7,141.3 L649.6,136.5 L650.4,132.1 L651.3,130.0 L652.2,130.5 L653.0,130.9 L653.9,130.1 L654.8,130.1 L655.6,131.2 L656.5,131.6 L657.4,133.8 L658.2,134.6 L659.3,137.2 L660.5,139.7 L661.7,137.8 L662.9,135.7 L664.0,137.0 L665.1,138.0 L666.3,135.7 L667.4,134.4 L668.6,138.5 L669.8,141.0 L670.7,140.1 L671.6,139.3 L672.6,136.0 L673.5,135.7 L674.5,134.9 L675.5,134.9 L676.4,134.4 L677.2,134.5 L678.1,133.3 L678.9,134.1 L679.8,134.7 L680.7,134.7 L681.5,135.6 L682.4,134.3 L683.3,132.1 L684.1,131.1 L685.0,128.3 L686.0,130.4 L687.1,131.9 L688.2,131.0 L689.3,132.6 L690.2,133.3 L691.0,131.1 L691.9,130.6 L692.8,129.3 L693.6,128.8 L694.5,129.3 L695.6,130.1 L696.7,128.5 L697.8,126.8 L698.8,125.6 L699.8,126.6 L700.9,129.0 L702.0,129.2 L703.1,128.5 L704.0,126.7 L704.9,126.3 L705.7,128.9 L706.6,130.9 L707.4,132.3 L708.3,133.4 L709.2,134.0 L710.0,135.4 L711.2,136.9 L712.3,138.7 L713.3,140.6 L714.4,143.4 L715.4,150.6 L716.4,155.9 L717.5,154.5 L718.7,151.4 L720.0,149.1 L720.9,151.1 L721.7,153.2 L722.6,153.3 L723.5,150.5 L724.3,147.8 L725.2,144.3 L726.0,143.6 L726.9,141.9 L727.8,141.4 L728.6,138.7 L729.5,136.3 L730.4,136.1 L731.2,134.3 L732.1,131.7 L733.0,130.4 L734.1,128.1 L735.2,126.4 L736.2,126.2 L737.3,124.4 L738.3,122.2 L739.3,120.6 L740.5,117.4 L741.6,112.8 L742.7,112.2 L743.8,110.9 L745.0,117.2 L745.9,114.1 L746.8,108.3 L747.9,109.1 L749.0,105.7 L750.1,103.3 L751.1,100.8 L752.1,100.2 L753.2,97.7 L754.5,105.2 L755.4,109.4 L756.3,112.2 L757.3,110.7 L758.3,109.3 L759.2,107.8 L760.1,106.9 L761.1,101.0 L762.1,103.2 L763.2,105.6 L764.2,105.8 L765.3,108.4 L766.4,107.5 L767.5,112.2 L768.6,114.2 L769.7,117.4 L770.9,123.9 L771.8,121.0 L772.7,118.8 L773.5,116.7 L774.4,114.7 L775.3,113.5 L776.1,115.1 L777.0,115.4 L777.9,116.3 L779.0,118.7 L780.1,121.7 L781.0,119.7 L781.8,117.1 L782.9,119.4 L783.9,120.5 L785.3,129.7 L786.5,140.1 L787.4,141.3 L788.2,141.9 L789.1,144.8 L789.9,145.9 L790.8,146.9 L791.7,145.2 L792.5,140.6 L793.4,138.6 L794.3,135.3 L795.1,136.3 L796.0,136.3 L796.9,139.0 L797.7,143.5 L798.6,148.1 L799.4,153.3 L800.3,157.7 L801.2,158.8 L802.0,158.6 L802.9,159.4 L803.9,154.3 L805.0,152.4 L806.1,150.1 L807.2,146.9 L808.1,144.5 L808.9,143.0 L809.8,145.2 L810.7,144.5 L811.5,145.9 L812.4,152.2 L813.3,156.0 L814.6,173.7 L815.2,186.9 L815.5,201.0 L816.0,216.4 L817.1,218.2 L818.1,220.7 L819.2,222.3 L820.1,230.2 L821.0,239.8 L821.5,262.2 L822.2,270.2 L823.0,280.2 L824.0,277.8 L825.0,274.4 L826.0,272.2 L827.0,273.8 L828.0,278.6 L829.0,279.8 L830.0,283.4 L831.0,286.6 L832.0,289.9 L833.0,289.5 L834.0,287.7 L835.0,286.2 L836.0,285.8 L837.0,285.4 L838.0,283.0 L839.0,285.0 L840.0,287.4 L841.0,288.4 L842.0,288.8 L843.0,293.6 L844.0,295.1 L845.0,294.4 L846.0,294.0 L847.0,293.3 L848.0,292.8 L849.0,291.5 L850.0,289.8 L851.0,288.2 L852.0,288.0 L853.0,290.8 L854.0,291.1 L855.0,293.2 L856.0,296.0 L857.0,296.5 L858.0,299.9 L859.0,299.2 L860.0,299.4 L861.0,297.9 L862.0,297.3 L863.0,297.2 L864.0,297.0 L865.0,296.0 L866.0,296.0 L867.0,298.1 L868.0,299.9 L869.0,301.9 L870.0,301.4 L871.0,303.2 L872.0,304.2 L873.0,307.3 L873.9,305.9 L874.9,307.2 L875.8,308.4 L876.8,307.7 L877.7,309.9 L878.6,310.2 L879.6,310.4 L880.5,333.6 L881.5,311.4 L882.6,308.8 L883.6,310.1 L884.7,308.9 L885.8,308.4 L886.8,307.6 L887.9,307.5 L888.9,305.6 L890.0,305.3 L891.0,304.0 L892.0,304.3 L893.0,302.5 L894.0,302.4 L895.0,303.3 L896.0,301.6 L897.0,300.5 L898.0,299.6 L899.0,300.1 L900.0,301.7 L901.0,303.0 L902.0,303.3 L903.0,304.2 L904.0,304.5 L905.0,306.3 L906.0,305.9 L907.0,304.8 L908.0,305.2 L909.0,303.8 L910.0,302.8 L911.0,301.8 L912.0,301.3 L913.0,301.2 L914.0,300.1 L915.0,300.4 L916.0,303.0 L917.0,304.1 L918.0,304.5 L919.0,307.3 L920.0,307.9 L921.0,309.0 L922.0,311.1 L923.0,312.8 L924.0,312.8 L924.8,316.4 L925.5,318.7 L926.2,317.4 L927.0,311.8 L928.0,311.8 L929.0,309.1 L930.0,309.0 L931.0,309.0 L932.0,305.2 L933.2,309.2 L934.5,313.2 L935.8,309.4 L937.0,305.8 L938.0,307.2 L939.0,304.9 L940.0,303.0 L941.0,304.4 L942.0,301.8 L943.0,303.5 L944.0,301.8 L945.0,304.1 L946.0,307.0 L947.0,308.1 L948.0,308.9 L949.0,311.5 L949.1,312.5 L950.3,317.9 L951.5,322.2 L952.4,324.9 L953.3,326.1 L954.6,316.6 L955.9,325.2 L956.7,343.1 L957.6,359.0 L958.1,377.1 L958.8,362.5 L959.5,351.0 L960.3,345.3 L961.1,348.1 L961.9,350.9 L963.3,355.0 L964.5,343.1 L965.4,337.2 L966.2,331.4 L967.1,324.7 L967.9,319.4 L968.8,314.9 L969.7,312.2 L970.8,307.6 L972.0,304.1 L973.0,302.4 L974.0,300.7 L975.0,301.9 L976.0,300.2 L977.0,298.6 L978.0,298.1 L979.0,300.8 L980.0,301.2 L981.0,303.9 L982.0,306.2 L982.1,312.3 L983.5,314.6 L984.6,316.0 L985.7,321.1 L986.8,321.9 L987.8,322.5 L988.7,325.7 L989.5,329.4 L990.4,332.6 L991.3,336.3 L992.1,333.3 L993.0,330.9 L993.9,328.0 L994.7,325.5 L995.6,323.0 L996.4,318.6 L997.3,316.5 L998.2,312.6 L999.1,310.9 L1000.1,309.4 L1001.0,306.1 L1002.0,304.6 L1003.0,304.3 L1004.0,303.5 L1005.0,301.2 L1006.0,301.2 L1007.0,301.0 L1008.0,299.8 L1009.0,300.7 L1010.0,301.8 L1011.0,302.5 L1012.0,303.2 L1013.0,303.6 L1014.0,303.5 L1015.0,304.4 L1016.0,304.9 L1017.0,303.9 L1018.0,303.1 L1019.0,301.0 L1020.0,301.2 L1021.0,300.6 L1022.0,299.0 L1023.0,298.9 L1024.0,298.2 L1025.0,298.6 L1026.0,301.2 L1027.0,298.2 L1028.0,300.8 L1029.0,300.3 L1030.0,303.3 L1031.0,305.4 L1032.0,303.2 L1033.0,303.6 L1034.0,303.4 L1035.0,302.3 L1036.0,302.4 L1037.0,299.7 L1038.0,301.7 L1039.0,300.8 L1040.0,300.0 L1041.0,300.3 L1042.0,302.0 L1043.0,301.9 L1044.0,303.2 L1045.0,303.3 L1046.0,302.7 L1047.0,305.2 L1048.0,306.1 L1049.0,307.9 L1050.0,307.8 L1051.0,309.7 L1052.0,311.2 L1052.8,312.9 L1053.5,314.9 L1054.2,313.8 L1055.0,309.7 L1056.0,307.5 L1057.0,308.7 L1058.0,308.2 L1059.0,306.7 L1060.0,305.3 L1061.0,305.3 L1062.0,305.9 L1063.0,308.0 L1064.0,307.7 L1065.2,308.8 L1066.4,312.1 L1067.3,316.5 L1068.2,318.1 L1069.1,318.4 L1070.1,319.6 L1071.1,321.8 L1072.2,328.9 L1073.2,337.7 L1074.2,334.1 L1075.3,330.7 L1076.7,316.0 L1077.6,319.7 L1078.4,324.9 L1079.2,328.0 L1080.1,331.0 L1081.5,326.0 L1082.5,331.6 L1083.6,337.8 L1085.0,329.3 L1086.1,329.6 L1087.1,330.8 L1087.9,333.7 L1088.8,336.3 L1089.6,342.4 L1090.4,347.7 L1091.9,361.9 L1093.3,370.2 L1094.6,382.2 L1096.0,406.7 L1097.0,383.1 L1098.1,368.6 L1099.5,355.9 L1100.4,354.3 L1101.2,353.1 L1102.0,352.3 L1102.8,352.0 L1104.3,362.4 L1105.8,368.5 L1106.6,373.6 L1107.4,376.5 L1108.4,378.5 L1109.5,380.6 L1110.5,384.9 L1111.6,390.7 L1112.4,385.9 L1113.2,378.8 L1114.7,366.5 L1116.1,358.4 L1116.9,369.0 L1117.8,379.1 L1118.6,383.4 L1119.4,390.0 L1120.9,381.0 L1122.3,366.8 L1123.2,359.2 L1124.0,351.5 L1124.8,346.3 L1125.6,341.2 L1127.1,340.1 L1128.5,345.0 L1129.4,348.2 L1130.2,352.9 L1131.2,354.1 L1132.3,352.2 L1133.3,348.5 L1134.4,344.4 L1135.4,343.9 L1136.4,343.0 L1137.5,344.0 L1138.5,345.0 L1139.5,347.2 L1140.6,349.9 L1141.6,351.7 L1142.6,354.0 L1143.5,358.6 L1144.3,360.7 L1145.8,355.9 L1146.8,355.1 L1147.8,353.7 L1149.3,357.9 L1150.1,355.0 L1150.9,351.4 L1151.8,353.4 L1152.6,355.0 L1153.6,351.1 L1154.7,350.4 L1156.1,351.8 L1157.6,344.5 L1158.4,339.0 L1158.4,105.5 L50.0,105.5Z" fill="url(#rg)" clip-path="url(#cdr)"/>
<line x1="51" x2="1157" y1="105.5" y2="105.5" stroke="#9a9a9a" stroke-width="1" stroke-dasharray="1 4.07"/>
<line x1="51" x2="1158.5" y1="342" y2="342" stroke="#aeb2c0" stroke-width="1" stroke-dasharray="1.8 3"/>
<g clip-path="url(#cp)" fill="none" stroke-width="2.8" stroke-linejoin="round" stroke-linecap="round">
<path d="M50.0,105.5 L50.9,102.7 L51.7,100.5 L52.8,97.1 L53.8,94.2 L54.7,86.6 L55.7,80.4 L56.7,85.2 L57.8,88.4 L58.6,85.9 L59.5,82.1 L60.4,78.8 L61.4,81.0 L62.4,82.5 L63.8,88.5 L65.2,79.7 L66.1,84.3 L66.9,87.7 L67.8,85.1 L68.7,84.5 L69.5,85.3 L70.4,86.6 L71.2,81.7 L72.1,77.2 L73.1,75.2 L74.2,74.5 L75.3,71.0 L76.4,66.8 L77.5,71.2 L78.5,72.9 L79.6,76.5 L80.8,77.9 L82.0,81.1 L82.8,75.4 L83.7,70.1 L84.5,65.4 L85.4,59.8 L86.5,62.8 L87.7,66.3 L88.9,71.0 L90.1,76.5 L91.5,64.6 L92.3,59.5 L93.2,53.8 L94.6,55.8 L95.4,53.7 L96.3,51.5 L97.5,42.7 L98.9,45.8 L100.1,41.6 L100.9,45.3 L101.8,50.4 L102.8,47.2 L103.9,43.7 L104.7,41.0 L105.6,36.6 L107.0,34.1 L107.9,36.7 L108.7,37.4 L110.1,35.6 L111.3,39.4 L112.5,34.0 L113.9,37.9 L115.3,37.1 L116.3,39.7 L117.4,43.9 L118.5,41.3 L119.6,39.8 L120.6,42.3 L121.7,48.0 L122.5,53.0 L123.4,58.3 L124.3,61.6 L125.1,56.0 L126.0,52.9 L127.1,54.5 L128.3,54.2 L129.4,55.0 L130.6,57.1 L131.8,58.0 L132.9,58.0 L133.8,57.3 L134.6,56.6 L135.5,55.9 L136.4,55.5 L137.2,54.7 L138.1,57.3 L138.9,57.9 L139.8,61.9 L140.8,64.2 L141.9,65.9 L142.9,66.9 L143.9,63.5 L144.9,61.3 L145.9,56.6 L146.7,56.7 L147.6,57.4 L148.4,55.8 L149.3,58.7 L150.2,59.0 L151.0,59.7 L151.9,59.1 L152.8,58.5 L153.6,57.2 L154.5,57.5 L155.4,55.5 L156.2,55.3 L157.3,53.2 L158.5,49.4 L159.5,52.5 L160.5,57.4 L161.4,56.6 L162.3,53.5 L163.1,48.7 L164.0,45.9 L165.0,50.5 L166.1,55.3 L167.1,60.0 L168.1,61.5 L169.2,66.2 L170.3,60.4 L171.4,56.9 L172.3,59.7 L173.1,62.1 L174.0,63.5 L175.0,63.5 L176.1,63.2 L177.2,59.8 L178.3,56.5 L179.4,59.2 L180.4,62.4 L181.3,63.1 L182.1,62.9 L183.0,63.4 L184.4,72.0 L185.1,79.9 L185.9,84.9 L186.9,81.0 L187.8,77.7 L188.7,75.3 L189.6,73.0 L190.4,64.6 L191.3,57.3 L192.1,54.3 L193.0,47.7 L194.0,47.0 L195.0,47.5 L195.9,46.9 L196.8,46.1 L197.7,44.7 L198.5,44.4 L199.4,45.6 L200.3,46.1 L201.1,48.4 L202.2,49.2 L203.4,50.0 L204.2,48.7 L205.1,47.2 L206.0,45.9 L206.8,44.3 L207.7,46.7 L208.5,48.0 L209.4,48.7 L210.3,51.6 L211.2,54.0 L212.3,55.7 L213.5,56.7 L214.6,54.6 L215.8,55.4 L216.9,55.3 L218.0,61.9 L219.0,67.8 L220.1,64.2 L221.3,66.1 L222.5,63.6 L223.6,62.3 L224.8,58.2 L225.9,57.2 L226.8,60.7 L227.6,62.2 L228.5,65.0 L229.6,67.7 L230.7,69.3 L231.8,75.2 L232.8,81.8 L233.7,75.7 L234.5,68.3 L235.4,71.4 L236.3,69.2 L237.1,71.2 L238.3,68.6 L239.4,66.7 L240.6,68.1 L241.8,68.4 L242.9,66.7 L244.0,63.6 L244.9,60.2 L245.8,59.1 L247.0,47.3 L248.1,50.3 L249.2,54.1 L250.1,54.3 L250.9,52.2 L252.1,54.9 L253.2,55.1 L254.1,62.7 L254.9,69.7 L256.1,73.8 L257.5,95.6 L258.3,87.1 L259.1,80.9 L259.9,81.7 L260.8,81.3 L261.7,83.6 L262.5,89.5 L263.4,81.2 L264.2,73.3 L265.6,66.8 L266.5,68.7 L267.4,70.6 L268.2,68.4 L269.1,68.7 L269.9,70.1 L270.8,70.7 L271.7,70.0 L272.5,69.8 L273.4,71.5 L274.3,71.0 L275.4,66.7 L276.5,62.8 L277.5,63.8 L278.6,65.0 L279.4,68.9 L280.3,72.1 L281.4,75.9 L282.6,78.0 L283.6,80.0 L284.6,83.0 L285.5,82.0 L286.4,79.6 L287.2,78.3 L288.1,77.2 L288.9,77.5 L289.8,76.6 L290.7,77.1 L291.5,75.0 L292.4,75.5 L293.3,72.9 L294.1,73.2 L295.3,75.0 L296.4,79.9 L297.4,83.3 L298.4,89.1 L299.3,93.7 L300.2,98.6 L301.0,103.3 L301.9,109.0 L302.8,106.5 L303.6,101.2 L304.7,97.3 L305.7,92.9 L306.6,89.8 L307.5,86.3 L308.5,84.6 L309.5,86.5 L310.5,86.0 L311.6,85.6 L312.6,86.0 L314.0,89.3 L314.9,85.6 L315.7,82.4 L316.6,81.4 L317.4,79.5 L318.3,79.1 L319.2,77.9 L320.0,78.0 L320.9,76.0 L321.8,75.1 L322.6,74.9 L323.5,74.8 L324.4,76.9 L325.2,78.3 L326.1,82.0 L326.9,84.0 L327.8,88.1 L328.7,90.6 L329.5,85.4 L330.4,83.3 L331.3,78.9 L332.1,74.6 L333.2,74.6 L334.4,75.4 L335.4,77.1 L336.4,79.8 L337.3,83.1 L338.2,85.9 L339.0,88.3 L339.9,91.9 L340.8,93.9 L341.6,96.1 L342.7,91.7 L343.7,91.1 L344.8,90.6 L345.9,88.1 L347.1,88.7 L348.2,90.6 L349.2,91.6 L350.3,96.1 L351.3,94.0 L352.3,87.9 L352.5,88.7 L353.7,87.4 L354.8,83.3 L355.9,85.5 L356.9,87.1 L357.9,85.2 L359.0,85.0 L359.9,83.6 L360.9,81.9 L361.9,85.0 L363.0,88.4 L363.9,90.6 L364.9,94.0 L365.9,97.4 L367.0,92.5 L368.1,87.4 L369.3,89.1 L370.4,92.8 L371.4,96.7 L372.5,99.9 L373.5,101.1 L374.5,106.8 L375.6,102.3 L376.8,97.7 L377.6,95.3 L378.5,92.8 L379.7,95.6 L381.1,87.0 L382.0,93.2 L382.8,97.2 L383.7,97.4 L384.5,99.3 L385.6,103.8 L386.6,105.3 L387.5,107.4 L388.3,110.2 L389.2,115.8 L390.1,121.2 L391.5,131.4 L392.3,139.0 L393.2,143.2 L394.0,137.2 L394.9,133.0 L395.9,131.3 L397.0,126.8 L398.1,134.0 L399.2,138.8 L400.3,143.5 L401.5,149.9 L402.3,142.5 L403.2,138.3 L404.1,135.9 L404.9,133.6 L406.0,135.8 L407.0,139.4 L407.9,138.1 L408.7,136.1 L409.6,138.7 L410.4,140.4 L411.5,137.0 L412.5,134.5 L413.6,132.6 L414.8,130.5 L415.6,126.4 L416.5,123.0 L417.6,126.8 L418.7,130.9 L419.8,129.5 L420.8,128.3 L421.7,127.0 L422.5,124.9 L423.4,124.9 L424.5,128.6 L425.6,131.0 L426.7,131.1 L427.7,131.8 L428.8,127.0 L429.8,123.3 L430.7,122.2 L431.5,120.2 L432.6,121.5 L433.8,121.0 L434.6,120.4 L435.5,122.8 L436.4,125.3 L437.4,122.3 L438.4,120.0 L439.2,122.1 L440.0,125.1 L440.9,131.3 L441.7,137.1 L442.6,140.8 L443.5,142.7 L444.3,144.8 L445.2,142.4 L446.0,140.3 L446.9,136.4 L447.8,136.7 L448.6,134.7 L449.5,135.2 L450.6,132.4 L451.7,128.3 L452.8,128.4 L453.8,126.8 L454.9,129.9 L455.9,131.7 L457.0,136.4 L458.1,137.4 L459.0,141.1 L459.9,145.7 L460.7,152.9 L461.6,155.9 L462.5,161.0 L463.3,164.9 L464.4,158.6 L465.6,152.2 L466.4,147.9 L467.3,143.2 L468.3,143.5 L469.4,142.4 L470.2,142.6 L471.1,143.3 L472.0,149.1 L472.8,154.3 L473.7,161.2 L474.5,155.8 L475.4,151.0 L476.3,152.6 L477.1,155.8 L478.3,147.4 L479.2,145.8 L480.1,146.4 L481.2,150.1 L482.3,156.6 L483.2,159.6 L484.0,161.9 L484.9,163.7 L485.8,156.2 L486.6,148.6 L488.0,145.4 L489.1,145.6 L490.1,146.0 L490.9,140.2 L491.8,136.1 L492.7,133.4 L493.5,133.8 L494.4,135.2 L495.3,134.7 L496.1,133.5 L497.0,132.0 L497.9,130.4 L498.7,130.4 L499.6,131.5 L500.6,127.0 L501.7,122.7 L503.0,126.6 L504.2,125.5 L505.3,124.2 L506.1,121.6 L507.0,118.5 L507.9,116.8 L508.7,113.3 L509.8,111.5 L510.8,109.9 L511.8,109.8 L512.9,111.1 L514.3,113.7 L515.1,111.0 L516.0,107.1 L516.9,104.9 L517.7,104.2 L518.6,102.3 L519.4,100.6 L520.3,102.4 L521.2,103.9 L522.0,105.3 L522.9,105.6 L523.8,105.9 L524.6,102.8 L525.5,100.7 L526.7,95.5 L527.6,98.6 L528.4,102.5 L529.6,102.1 L530.7,104.2 L531.5,102.6 L532.4,100.3 L533.3,99.2 L534.1,98.0 L535.3,100.2 L536.4,101.8 L537.4,102.4 L538.4,103.0 L539.5,101.9 L540.5,100.7 L541.4,103.5 L542.2,105.1 L543.2,106.2 L544.1,108.1 L545.2,106.0 L546.2,103.9 L547.3,100.7 L548.5,99.0 L549.5,99.9 L550.5,101.6 L551.4,100.9 L552.3,99.2 L553.3,102.8 L554.3,102.3 L555.5,102.3 L556.6,100.4 L557.4,101.4 L558.3,100.0 L559.5,113.4 L560.9,106.0 L561.8,106.0 L562.6,105.8 L563.5,109.6 L564.4,114.1 L565.2,112.1 L566.1,109.7 L567.1,107.6 L568.2,105.0 L569.0,107.2 L569.9,108.2 L571.0,111.2 L572.1,111.6 L573.0,110.4 L573.9,109.2 L574.7,109.2 L575.6,110.2 L576.4,111.5 L577.3,110.8 L578.2,109.9 L579.0,110.3 L579.9,111.6 L580.8,112.2 L581.9,110.5 L583.0,110.8 L584.0,113.3 L585.1,113.7 L585.9,113.5 L586.8,112.7 L587.8,117.0 L588.9,118.6 L590.0,119.1 L591.0,120.6 L592.1,123.0 L592.9,126.3 L593.8,128.8 L594.9,125.3 L596.0,122.1 L597.2,120.4 L598.3,117.1 L599.3,122.6 L600.4,128.0 L601.4,125.4 L602.4,121.3 L603.6,125.0 L604.7,124.9 L605.8,127.7 L606.9,129.0 L608.0,130.5 L609.0,131.3 L610.0,131.1 L611.1,127.9 L612.2,130.4 L613.3,134.8 L614.4,136.6 L615.6,140.8 L616.6,137.5 L617.6,135.2 L618.5,134.4 L619.4,134.0 L620.2,133.2 L621.1,132.7 L622.0,130.7 L622.8,130.9 L623.7,133.2 L624.5,135.4 L625.4,136.9 L626.5,134.5 L627.7,133.6 L628.6,135.2 L629.6,138.8 L630.6,139.8 L631.5,135.8 L632.3,131.7 L633.2,128.1 L634.2,131.1 L635.3,135.2 L636.2,134.1 L637.1,132.8 L638.0,131.1 L639.2,135.2 L640.4,135.9 L641.6,137.4 L642.7,139.6 L643.5,138.4 L644.4,140.6 L645.3,142.2 L646.1,143.5 L647.0,144.8 L647.9,145.6 L648.7,141.3 L649.6,136.5 L650.4,132.1 L651.3,130.0 L652.2,130.5 L653.0,130.9 L653.9,130.1 L654.8,130.1 L655.6,131.2 L656.5,131.6 L657.4,133.8 L658.2,134.6 L659.3,137.2 L660.5,139.7 L661.7,137.8 L662.9,135.7 L664.0,137.0 L665.1,138.0 L666.3,135.7 L667.4,134.4 L668.6,138.5 L669.8,141.0 L670.7,140.1 L671.6,139.3 L672.6,136.0 L673.5,135.7 L674.5,134.9 L675.5,134.9 L676.4,134.4 L677.2,134.5 L678.1,133.3 L678.9,134.1 L679.8,134.7 L680.7,134.7 L681.5,135.6 L682.4,134.3 L683.3,132.1 L684.1,131.1 L685.0,128.3 L686.0,130.4 L687.1,131.9 L688.2,131.0 L689.3,132.6 L690.2,133.3 L691.0,131.1 L691.9,130.6 L692.8,129.3 L693.6,128.8 L694.5,129.3 L695.6,130.1 L696.7,128.5 L697.8,126.8 L698.8,125.6 L699.8,126.6 L700.9,129.0 L702.0,129.2 L703.1,128.5 L704.0,126.7 L704.9,126.3 L705.7,128.9 L706.6,130.9 L707.4,132.3 L708.3,133.4 L709.2,134.0 L710.0,135.4 L711.2,136.9 L712.3,138.7 L713.3,140.6 L714.4,143.4 L715.4,150.6 L716.4,155.9 L717.5,154.5 L718.7,151.4 L720.0,149.1 L720.9,151.1 L721.7,153.2 L722.6,153.3 L723.5,150.5 L724.3,147.8 L725.2,144.3 L726.0,143.6 L726.9,141.9 L727.8,141.4 L728.6,138.7 L729.5,136.3 L730.4,136.1 L731.2,134.3 L732.1,131.7 L733.0,130.4 L734.1,128.1 L735.2,126.4 L736.2,126.2 L737.3,124.4 L738.3,122.2 L739.3,120.6 L740.5,117.4 L741.6,112.8 L742.7,112.2 L743.8,110.9 L745.0,117.2 L745.9,114.1 L746.8,108.3 L747.9,109.1 L749.0,105.7 L750.1,103.3 L751.1,100.8 L752.1,100.2 L753.2,97.7 L754.5,105.2 L755.4,109.4 L756.3,112.2 L757.3,110.7 L758.3,109.3 L759.2,107.8 L760.1,106.9 L761.1,101.0 L762.1,103.2 L763.2,105.6 L764.2,105.8 L765.3,108.4 L766.4,107.5 L767.5,112.2 L768.6,114.2 L769.7,117.4 L770.9,123.9 L771.8,121.0 L772.7,118.8 L773.5,116.7 L774.4,114.7 L775.3,113.5 L776.1,115.1 L777.0,115.4 L777.9,116.3 L779.0,118.7 L780.1,121.7 L781.0,119.7 L781.8,117.1 L782.9,119.4 L783.9,120.5 L785.3,129.7 L786.5,140.1 L787.4,141.3 L788.2,141.9 L789.1,144.8 L789.9,145.9 L790.8,146.9 L791.7,145.2 L792.5,140.6 L793.4,138.6 L794.3,135.3 L795.1,136.3 L796.0,136.3 L796.9,139.0 L797.7,143.5 L798.6,148.1 L799.4,153.3 L800.3,157.7 L801.2,158.8 L802.0,158.6 L802.9,159.4 L803.9,154.3 L805.0,152.4 L806.1,150.1 L807.2,146.9 L808.1,144.5 L808.9,143.0 L809.8,145.2 L810.7,144.5 L811.5,145.9 L812.4,152.2 L813.3,156.0 L814.6,173.7 L815.2,186.9 L815.5,201.0 L816.0,216.4 L817.1,218.2 L818.1,220.7 L819.2,222.3 L820.1,230.2 L821.0,239.8 L821.5,262.2 L822.2,270.2 L823.0,280.2 L824.0,277.8 L825.0,274.4 L826.0,272.2 L827.0,273.8 L828.0,278.6 L829.0,279.8 L830.0,283.4 L831.0,286.6 L832.0,289.9 L833.0,289.5 L834.0,287.7 L835.0,286.2 L836.0,285.8 L837.0,285.4 L838.0,283.0 L839.0,285.0 L840.0,287.4 L841.0,288.4 L842.0,288.8 L843.0,293.6 L844.0,295.1 L845.0,294.4 L846.0,294.0 L847.0,293.3 L848.0,292.8 L849.0,291.5 L850.0,289.8 L851.0,288.2 L852.0,288.0 L853.0,290.8 L854.0,291.1 L855.0,293.2 L856.0,296.0 L857.0,296.5 L858.0,299.9 L859.0,299.2 L860.0,299.4 L861.0,297.9 L862.0,297.3 L863.0,297.2 L864.0,297.0 L865.0,296.0 L866.0,296.0 L867.0,298.1 L868.0,299.9 L869.0,301.9 L870.0,301.4 L871.0,303.2 L872.0,304.2 L873.0,307.3 L873.9,305.9 L874.9,307.2 L875.8,308.4 L876.8,307.7 L877.7,309.9 L878.6,310.2 L879.6,310.4 L880.5,333.6 L881.5,311.4 L882.6,308.8 L883.6,310.1 L884.7,308.9 L885.8,308.4 L886.8,307.6 L887.9,307.5 L888.9,305.6 L890.0,305.3 L891.0,304.0 L892.0,304.3 L893.0,302.5 L894.0,302.4 L895.0,303.3 L896.0,301.6 L897.0,300.5 L898.0,299.6 L899.0,300.1 L900.0,301.7 L901.0,303.0 L902.0,303.3 L903.0,304.2 L904.0,304.5 L905.0,306.3 L906.0,305.9 L907.0,304.8 L908.0,305.2 L909.0,303.8 L910.0,302.8 L911.0,301.8 L912.0,301.3 L913.0,301.2 L914.0,300.1 L915.0,300.4 L916.0,303.0 L917.0,304.1 L918.0,304.5 L919.0,307.3 L920.0,307.9 L921.0,309.0 L922.0,311.1 L923.0,312.8 L924.0,312.8 L924.8,316.4 L925.5,318.7 L926.2,317.4 L927.0,311.8 L928.0,311.8 L929.0,309.1 L930.0,309.0 L931.0,309.0 L932.0,305.2 L933.2,309.2 L934.5,313.2 L935.8,309.4 L937.0,305.8 L938.0,307.2 L939.0,304.9 L940.0,303.0 L941.0,304.4 L942.0,301.8 L943.0,303.5 L944.0,301.8 L945.0,304.1 L946.0,307.0 L947.0,308.1 L948.0,308.9 L949.0,311.5 L949.1,312.5 L950.3,317.9 L951.5,322.2 L952.4,324.9 L953.3,326.1 L954.6,316.6 L955.9,325.2 L956.7,343.1 L957.6,359.0 L958.1,377.1 L958.8,362.5 L959.5,351.0 L960.3,345.3 L961.1,348.1 L961.9,350.9 L963.3,355.0 L964.5,343.1 L965.4,337.2 L966.2,331.4 L967.1,324.7 L967.9,319.4 L968.8,314.9 L969.7,312.2 L970.8,307.6 L972.0,304.1 L973.0,302.4 L974.0,300.7 L975.0,301.9 L976.0,300.2 L977.0,298.6 L978.0,298.1 L979.0,300.8 L980.0,301.2 L981.0,303.9 L982.0,306.2 L982.1,312.3 L983.5,314.6 L984.6,316.0 L985.7,321.1 L986.8,321.9 L987.8,322.5 L988.7,325.7 L989.5,329.4 L990.4,332.6 L991.3,336.3 L992.1,333.3 L993.0,330.9 L993.9,328.0 L994.7,325.5 L995.6,323.0 L996.4,318.6 L997.3,316.5 L998.2,312.6 L999.1,310.9 L1000.1,309.4 L1001.0,306.1 L1002.0,304.6 L1003.0,304.3 L1004.0,303.5 L1005.0,301.2 L1006.0,301.2 L1007.0,301.0 L1008.0,299.8 L1009.0,300.7 L1010.0,301.8 L1011.0,302.5 L1012.0,303.2 L1013.0,303.6 L1014.0,303.5 L1015.0,304.4 L1016.0,304.9 L1017.0,303.9 L1018.0,303.1 L1019.0,301.0 L1020.0,301.2 L1021.0,300.6 L1022.0,299.0 L1023.0,298.9 L1024.0,298.2 L1025.0,298.6 L1026.0,301.2 L1027.0,298.2 L1028.0,300.8 L1029.0,300.3 L1030.0,303.3 L1031.0,305.4 L1032.0,303.2 L1033.0,303.6 L1034.0,303.4 L1035.0,302.3 L1036.0,302.4 L1037.0,299.7 L1038.0,301.7 L1039.0,300.8 L1040.0,300.0 L1041.0,300.3 L1042.0,302.0 L1043.0,301.9 L1044.0,303.2 L1045.0,303.3 L1046.0,302.7 L1047.0,305.2 L1048.0,306.1 L1049.0,307.9 L1050.0,307.8 L1051.0,309.7 L1052.0,311.2 L1052.8,312.9 L1053.5,314.9 L1054.2,313.8 L1055.0,309.7 L1056.0,307.5 L1057.0,308.7 L1058.0,308.2 L1059.0,306.7 L1060.0,305.3 L1061.0,305.3 L1062.0,305.9 L1063.0,308.0 L1064.0,307.7 L1065.2,308.8 L1066.4,312.1 L1067.3,316.5 L1068.2,318.1 L1069.1,318.4 L1070.1,319.6 L1071.1,321.8 L1072.2,328.9 L1073.2,337.7 L1074.2,334.1 L1075.3,330.7 L1076.7,316.0 L1077.6,319.7 L1078.4,324.9 L1079.2,328.0 L1080.1,331.0 L1081.5,326.0 L1082.5,331.6 L1083.6,337.8 L1085.0,329.3 L1086.1,329.6 L1087.1,330.8 L1087.9,333.7 L1088.8,336.3 L1089.6,342.4 L1090.4,347.7 L1091.9,361.9 L1093.3,370.2 L1094.6,382.2 L1096.0,406.7 L1097.0,383.1 L1098.1,368.6 L1099.5,355.9 L1100.4,354.3 L1101.2,353.1 L1102.0,352.3 L1102.8,352.0 L1104.3,362.4 L1105.8,368.5 L1106.6,373.6 L1107.4,376.5 L1108.4,378.5 L1109.5,380.6 L1110.5,384.9 L1111.6,390.7 L1112.4,385.9 L1113.2,378.8 L1114.7,366.5 L1116.1,358.4 L1116.9,369.0 L1117.8,379.1 L1118.6,383.4 L1119.4,390.0 L1120.9,381.0 L1122.3,366.8 L1123.2,359.2 L1124.0,351.5 L1124.8,346.3 L1125.6,341.2 L1127.1,340.1 L1128.5,345.0 L1129.4,348.2 L1130.2,352.9 L1131.2,354.1 L1132.3,352.2 L1133.3,348.5 L1134.4,344.4 L1135.4,343.9 L1136.4,343.0 L1137.5,344.0 L1138.5,345.0 L1139.5,347.2 L1140.6,349.9 L1141.6,351.7 L1142.6,354.0 L1143.5,358.6 L1144.3,360.7 L1145.8,355.9 L1146.8,355.1 L1147.8,353.7 L1149.3,357.9 L1150.1,355.0 L1150.9,351.4 L1151.8,353.4 L1152.6,355.0 L1153.6,351.1 L1154.7,350.4 L1156.1,351.8 L1157.6,344.5 L1158.4,339.0" stroke="#16c784" clip-path="url(#cu)"/>
<path d="M50.0,105.5 L50.9,102.7 L51.7,100.5 L52.8,97.1 L53.8,94.2 L54.7,86.6 L55.7,80.4 L56.7,85.2 L57.8,88.4 L58.6,85.9 L59.5,82.1 L60.4,78.8 L61.4,81.0 L62.4,82.5 L63.8,88.5 L65.2,79.7 L66.1,84.3 L66.9,87.7 L67.8,85.1 L68.7,84.5 L69.5,85.3 L70.4,86.6 L71.2,81.7 L72.1,77.2 L73.1,75.2 L74.2,74.5 L75.3,71.0 L76.4,66.8 L77.5,71.2 L78.5,72.9 L79.6,76.5 L80.8,77.9 L82.0,81.1 L82.8,75.4 L83.7,70.1 L84.5,65.4 L85.4,59.8 L86.5,62.8 L87.7,66.3 L88.9,71.0 L90.1,76.5 L91.5,64.6 L92.3,59.5 L93.2,53.8 L94.6,55.8 L95.4,53.7 L96.3,51.5 L97.5,42.7 L98.9,45.8 L100.1,41.6 L100.9,45.3 L101.8,50.4 L102.8,47.2 L103.9,43.7 L104.7,41.0 L105.6,36.6 L107.0,34.1 L107.9,36.7 L108.7,37.4 L110.1,35.6 L111.3,39.4 L112.5,34.0 L113.9,37.9 L115.3,37.1 L116.3,39.7 L117.4,43.9 L118.5,41.3 L119.6,39.8 L120.6,42.3 L121.7,48.0 L122.5,53.0 L123.4,58.3 L124.3,61.6 L125.1,56.0 L126.0,52.9 L127.1,54.5 L128.3,54.2 L129.4,55.0 L130.6,57.1 L131.8,58.0 L132.9,58.0 L133.8,57.3 L134.6,56.6 L135.5,55.9 L136.4,55.5 L137.2,54.7 L138.1,57.3 L138.9,57.9 L139.8,61.9 L140.8,64.2 L141.9,65.9 L142.9,66.9 L143.9,63.5 L144.9,61.3 L145.9,56.6 L146.7,56.7 L147.6,57.4 L148.4,55.8 L149.3,58.7 L150.2,59.0 L151.0,59.7 L151.9,59.1 L152.8,58.5 L153.6,57.2 L154.5,57.5 L155.4,55.5 L156.2,55.3 L157.3,53.2 L158.5,49.4 L159.5,52.5 L160.5,57.4 L161.4,56.6 L162.3,53.5 L163.1,48.7 L164.0,45.9 L165.0,50.5 L166.1,55.3 L167.1,60.0 L168.1,61.5 L169.2,66.2 L170.3,60.4 L171.4,56.9 L172.3,59.7 L173.1,62.1 L174.0,63.5 L175.0,63.5 L176.1,63.2 L177.2,59.8 L178.3,56.5 L179.4,59.2 L180.4,62.4 L181.3,63.1 L182.1,62.9 L183.0,63.4 L184.4,72.0 L185.1,79.9 L185.9,84.9 L186.9,81.0 L187.8,77.7 L188.7,75.3 L189.6,73.0 L190.4,64.6 L191.3,57.3 L192.1,54.3 L193.0,47.7 L194.0,47.0 L195.0,47.5 L195.9,46.9 L196.8,46.1 L197.7,44.7 L198.5,44.4 L199.4,45.6 L200.3,46.1 L201.1,48.4 L202.2,49.2 L203.4,50.0 L204.2,48.7 L205.1,47.2 L206.0,45.9 L206.8,44.3 L207.7,46.7 L208.5,48.0 L209.4,48.7 L210.3,51.6 L211.2,54.0 L212.3,55.7 L213.5,56.7 L214.6,54.6 L215.8,55.4 L216.9,55.3 L218.0,61.9 L219.0,67.8 L220.1,64.2 L221.3,66.1 L222.5,63.6 L223.6,62.3 L224.8,58.2 L225.9,57.2 L226.8,60.7 L227.6,62.2 L228.5,65.0 L229.6,67.7 L230.7,69.3 L231.8,75.2 L232.8,81.8 L233.7,75.7 L234.5,68.3 L235.4,71.4 L236.3,69.2 L237.1,71.2 L238.3,68.6 L239.4,66.7 L240.6,68.1 L241.8,68.4 L242.9,66.7 L244.0,63.6 L244.9,60.2 L245.8,59.1 L247.0,47.3 L248.1,50.3 L249.2,54.1 L250.1,54.3 L250.9,52.2 L252.1,54.9 L253.2,55.1 L254.1,62.7 L254.9,69.7 L256.1,73.8 L257.5,95.6 L258.3,87.1 L259.1,80.9 L259.9,81.7 L260.8,81.3 L261.7,83.6 L262.5,89.5 L263.4,81.2 L264.2,73.3 L265.6,66.8 L266.5,68.7 L267.4,70.6 L268.2,68.4 L269.1,68.7 L269.9,70.1 L270.8,70.7 L271.7,70.0 L272.5,69.8 L273.4,71.5 L274.3,71.0 L275.4,66.7 L276.5,62.8 L277.5,63.8 L278.6,65.0 L279.4,68.9 L280.3,72.1 L281.4,75.9 L282.6,78.0 L283.6,80.0 L284.6,83.0 L285.5,82.0 L286.4,79.6 L287.2,78.3 L288.1,77.2 L288.9,77.5 L289.8,76.6 L290.7,77.1 L291.5,75.0 L292.4,75.5 L293.3,72.9 L294.1,73.2 L295.3,75.0 L296.4,79.9 L297.4,83.3 L298.4,89.1 L299.3,93.7 L300.2,98.6 L301.0,103.3 L301.9,109.0 L302.8,106.5 L303.6,101.2 L304.7,97.3 L305.7,92.9 L306.6,89.8 L307.5,86.3 L308.5,84.6 L309.5,86.5 L310.5,86.0 L311.6,85.6 L312.6,86.0 L314.0,89.3 L314.9,85.6 L315.7,82.4 L316.6,81.4 L317.4,79.5 L318.3,79.1 L319.2,77.9 L320.0,78.0 L320.9,76.0 L321.8,75.1 L322.6,74.9 L323.5,74.8 L324.4,76.9 L325.2,78.3 L326.1,82.0 L326.9,84.0 L327.8,88.1 L328.7,90.6 L329.5,85.4 L330.4,83.3 L331.3,78.9 L332.1,74.6 L333.2,74.6 L334.4,75.4 L335.4,77.1 L336.4,79.8 L337.3,83.1 L338.2,85.9 L339.0,88.3 L339.9,91.9 L340.8,93.9 L341.6,96.1 L342.7,91.7 L343.7,91.1 L344.8,90.6 L345.9,88.1 L347.1,88.7 L348.2,90.6 L349.2,91.6 L350.3,96.1 L351.3,94.0 L352.3,87.9 L352.5,88.7 L353.7,87.4 L354.8,83.3 L355.9,85.5 L356.9,87.1 L357.9,85.2 L359.0,85.0 L359.9,83.6 L360.9,81.9 L361.9,85.0 L363.0,88.4 L363.9,90.6 L364.9,94.0 L365.9,97.4 L367.0,92.5 L368.1,87.4 L369.3,89.1 L370.4,92.8 L371.4,96.7 L372.5,99.9 L373.5,101.1 L374.5,106.8 L375.6,102.3 L376.8,97.7 L377.6,95.3 L378.5,92.8 L379.7,95.6 L381.1,87.0 L382.0,93.2 L382.8,97.2 L383.7,97.4 L384.5,99.3 L385.6,103.8 L386.6,105.3 L387.5,107.4 L388.3,110.2 L389.2,115.8 L390.1,121.2 L391.5,131.4 L392.3,139.0 L393.2,143.2 L394.0,137.2 L394.9,133.0 L395.9,131.3 L397.0,126.8 L398.1,134.0 L399.2,138.8 L400.3,143.5 L401.5,149.9 L402.3,142.5 L403.2,138.3 L404.1,135.9 L404.9,133.6 L406.0,135.8 L407.0,139.4 L407.9,138.1 L408.7,136.1 L409.6,138.7 L410.4,140.4 L411.5,137.0 L412.5,134.5 L413.6,132.6 L414.8,130.5 L415.6,126.4 L416.5,123.0 L417.6,126.8 L418.7,130.9 L419.8,129.5 L420.8,128.3 L421.7,127.0 L422.5,124.9 L423.4,124.9 L424.5,128.6 L425.6,131.0 L426.7,131.1 L427.7,131.8 L428.8,127.0 L429.8,123.3 L430.7,122.2 L431.5,120.2 L432.6,121.5 L433.8,121.0 L434.6,120.4 L435.5,122.8 L436.4,125.3 L437.4,122.3 L438.4,120.0 L439.2,122.1 L440.0,125.1 L440.9,131.3 L441.7,137.1 L442.6,140.8 L443.5,142.7 L444.3,144.8 L445.2,142.4 L446.0,140.3 L446.9,136.4 L447.8,136.7 L448.6,134.7 L449.5,135.2 L450.6,132.4 L451.7,128.3 L452.8,128.4 L453.8,126.8 L454.9,129.9 L455.9,131.7 L457.0,136.4 L458.1,137.4 L459.0,141.1 L459.9,145.7 L460.7,152.9 L461.6,155.9 L462.5,161.0 L463.3,164.9 L464.4,158.6 L465.6,152.2 L466.4,147.9 L467.3,143.2 L468.3,143.5 L469.4,142.4 L470.2,142.6 L471.1,143.3 L472.0,149.1 L472.8,154.3 L473.7,161.2 L474.5,155.8 L475.4,151.0 L476.3,152.6 L477.1,155.8 L478.3,147.4 L479.2,145.8 L480.1,146.4 L481.2,150.1 L482.3,156.6 L483.2,159.6 L484.0,161.9 L484.9,163.7 L485.8,156.2 L486.6,148.6 L488.0,145.4 L489.1,145.6 L490.1,146.0 L490.9,140.2 L491.8,136.1 L492.7,133.4 L493.5,133.8 L494.4,135.2 L495.3,134.7 L496.1,133.5 L497.0,132.0 L497.9,130.4 L498.7,130.4 L499.6,131.5 L500.6,127.0 L501.7,122.7 L503.0,126.6 L504.2,125.5 L505.3,124.2 L506.1,121.6 L507.0,118.5 L507.9,116.8 L508.7,113.3 L509.8,111.5 L510.8,109.9 L511.8,109.8 L512.9,111.1 L514.3,113.7 L515.1,111.0 L516.0,107.1 L516.9,104.9 L517.7,104.2 L518.6,102.3 L519.4,100.6 L520.3,102.4 L521.2,103.9 L522.0,105.3 L522.9,105.6 L523.8,105.9 L524.6,102.8 L525.5,100.7 L526.7,95.5 L527.6,98.6 L528.4,102.5 L529.6,102.1 L530.7,104.2 L531.5,102.6 L532.4,100.3 L533.3,99.2 L534.1,98.0 L535.3,100.2 L536.4,101.8 L537.4,102.4 L538.4,103.0 L539.5,101.9 L540.5,100.7 L541.4,103.5 L542.2,105.1 L543.2,106.2 L544.1,108.1 L545.2,106.0 L546.2,103.9 L547.3,100.7 L548.5,99.0 L549.5,99.9 L550.5,101.6 L551.4,100.9 L552.3,99.2 L553.3,102.8 L554.3,102.3 L555.5,102.3 L556.6,100.4 L557.4,101.4 L558.3,100.0 L559.5,113.4 L560.9,106.0 L561.8,106.0 L562.6,105.8 L563.5,109.6 L564.4,114.1 L565.2,112.1 L566.1,109.7 L567.1,107.6 L568.2,105.0 L569.0,107.2 L569.9,108.2 L571.0,111.2 L572.1,111.6 L573.0,110.4 L573.9,109.2 L574.7,109.2 L575.6,110.2 L576.4,111.5 L577.3,110.8 L578.2,109.9 L579.0,110.3 L579.9,111.6 L580.8,112.2 L581.9,110.5 L583.0,110.8 L584.0,113.3 L585.1,113.7 L585.9,113.5 L586.8,112.7 L587.8,117.0 L588.9,118.6 L590.0,119.1 L591.0,120.6 L592.1,123.0 L592.9,126.3 L593.8,128.8 L594.9,125.3 L596.0,122.1 L597.2,120.4 L598.3,117.1 L599.3,122.6 L600.4,128.0 L601.4,125.4 L602.4,121.3 L603.6,125.0 L604.7,124.9 L605.8,127.7 L606.9,129.0 L608.0,130.5 L609.0,131.3 L610.0,131.1 L611.1,127.9 L612.2,130.4 L613.3,134.8 L614.4,136.6 L615.6,140.8 L616.6,137.5 L617.6,135.2 L618.5,134.4 L619.4,134.0 L620.2,133.2 L621.1,132.7 L622.0,130.7 L622.8,130.9 L623.7,133.2 L624.5,135.4 L625.4,136.9 L626.5,134.5 L627.7,133.6 L628.6,135.2 L629.6,138.8 L630.6,139.8 L631.5,135.8 L632.3,131.7 L633.2,128.1 L634.2,131.1 L635.3,135.2 L636.2,134.1 L637.1,132.8 L638.0,131.1 L639.2,135.2 L640.4,135.9 L641.6,137.4 L642.7,139.6 L643.5,138.4 L644.4,140.6 L645.3,142.2 L646.1,143.5 L647.0,144.8 L647.9,145.6 L648.7,141.3 L649.6,136.5 L650.4,132.1 L651.3,130.0 L652.2,130.5 L653.0,130.9 L653.9,130.1 L654.8,130.1 L655.6,131.2 L656.5,131.6 L657.4,133.8 L658.2,134.6 L659.3,137.2 L660.5,139.7 L661.7,137.8 L662.9,135.7 L664.0,137.0 L665.1,138.0 L666.3,135.7 L667.4,134.4 L668.6,138.5 L669.8,141.0 L670.7,140.1 L671.6,139.3 L672.6,136.0 L673.5,135.7 L674.5,134.9 L675.5,134.9 L676.4,134.4 L677.2,134.5 L678.1,133.3 L678.9,134.1 L679.8,134.7 L680.7,134.7 L681.5,135.6 L682.4,134.3 L683.3,132.1 L684.1,131.1 L685.0,128.3 L686.0,130.4 L687.1,131.9 L688.2,131.0 L689.3,132.6 L690.2,133.3 L691.0,131.1 L691.9,130.6 L692.8,129.3 L693.6,128.8 L694.5,129.3 L695.6,130.1 L696.7,128.5 L697.8,126.8 L698.8,125.6 L699.8,126.6 L700.9,129.0 L702.0,129.2 L703.1,128.5 L704.0,126.7 L704.9,126.3 L705.7,128.9 L706.6,130.9 L707.4,132.3 L708.3,133.4 L709.2,134.0 L710.0,135.4 L711.2,136.9 L712.3,138.7 L713.3,140.6 L714.4,143.4 L715.4,150.6 L716.4,155.9 L717.5,154.5 L718.7,151.4 L720.0,149.1 L720.9,151.1 L721.7,153.2 L722.6,153.3 L723.5,150.5 L724.3,147.8 L725.2,144.3 L726.0,143.6 L726.9,141.9 L727.8,141.4 L728.6,138.7 L729.5,136.3 L730.4,136.1 L731.2,134.3 L732.1,131.7 L733.0,130.4 L734.1,128.1 L735.2,126.4 L736.2,126.2 L737.3,124.4 L738.3,122.2 L739.3,120.6 L740.5,117.4 L741.6,112.8 L742.7,112.2 L743.8,110.9 L745.0,117.2 L745.9,114.1 L746.8,108.3 L747.9,109.1 L749.0,105.7 L750.1,103.3 L751.1,100.8 L752.1,100.2 L753.2,97.7 L754.5,105.2 L755.4,109.4 L756.3,112.2 L757.3,110.7 L758.3,109.3 L759.2,107.8 L760.1,106.9 L761.1,101.0 L762.1,103.2 L763.2,105.6 L764.2,105.8 L765.3,108.4 L766.4,107.5 L767.5,112.2 L768.6,114.2 L769.7,117.4 L770.9,123.9 L771.8,121.0 L772.7,118.8 L773.5,116.7 L774.4,114.7 L775.3,113.5 L776.1,115.1 L777.0,115.4 L777.9,116.3 L779.0,118.7 L780.1,121.7 L781.0,119.7 L781.8,117.1 L782.9,119.4 L783.9,120.5 L785.3,129.7 L786.5,140.1 L787.4,141.3 L788.2,141.9 L789.1,144.8 L789.9,145.9 L790.8,146.9 L791.7,145.2 L792.5,140.6 L793.4,138.6 L794.3,135.3 L795.1,136.3 L796.0,136.3 L796.9,139.0 L797.7,143.5 L798.6,148.1 L799.4,153.3 L800.3,157.7 L801.2,158.8 L802.0,158.6 L802.9,159.4 L803.9,154.3 L805.0,152.4 L806.1,150.1 L807.2,146.9 L808.1,144.5 L808.9,143.0 L809.8,145.2 L810.7,144.5 L811.5,145.9 L812.4,152.2 L813.3,156.0 L814.6,173.7 L815.2,186.9 L815.5,201.0 L816.0,216.4 L817.1,218.2 L818.1,220.7 L819.2,222.3 L820.1,230.2 L821.0,239.8 L821.5,262.2 L822.2,270.2 L823.0,280.2 L824.0,277.8 L825.0,274.4 L826.0,272.2 L827.0,273.8 L828.0,278.6 L829.0,279.8 L830.0,283.4 L831.0,286.6 L832.0,289.9 L833.0,289.5 L834.0,287.7 L835.0,286.2 L836.0,285.8 L837.0,285.4 L838.0,283.0 L839.0,285.0 L840.0,287.4 L841.0,288.4 L842.0,288.8 L843.0,293.6 L844.0,295.1 L845.0,294.4 L846.0,294.0 L847.0,293.3 L848.0,292.8 L849.0,291.5 L850.0,289.8 L851.0,288.2 L852.0,288.0 L853.0,290.8 L854.0,291.1 L855.0,293.2 L856.0,296.0 L857.0,296.5 L858.0,299.9 L859.0,299.2 L860.0,299.4 L861.0,297.9 L862.0,297.3 L863.0,297.2 L864.0,297.0 L865.0,296.0 L866.0,296.0 L867.0,298.1 L868.0,299.9 L869.0,301.9 L870.0,301.4 L871.0,303.2 L872.0,304.2 L873.0,307.3 L873.9,305.9 L874.9,307.2 L875.8,308.4 L876.8,307.7 L877.7,309.9 L878.6,310.2 L879.6,310.4 L880.5,333.6 L881.5,311.4 L882.6,308.8 L883.6,310.1 L884.7,308.9 L885.8,308.4 L886.8,307.6 L887.9,307.5 L888.9,305.6 L890.0,305.3 L891.0,304.0 L892.0,304.3 L893.0,302.5 L894.0,302.4 L895.0,303.3 L896.0,301.6 L897.0,300.5 L898.0,299.6 L899.0,300.1 L900.0,301.7 L901.0,303.0 L902.0,303.3 L903.0,304.2 L904.0,304.5 L905.0,306.3 L906.0,305.9 L907.0,304.8 L908.0,305.2 L909.0,303.8 L910.0,302.8 L911.0,301.8 L912.0,301.3 L913.0,301.2 L914.0,300.1 L915.0,300.4 L916.0,303.0 L917.0,304.1 L918.0,304.5 L919.0,307.3 L920.0,307.9 L921.0,309.0 L922.0,311.1 L923.0,312.8 L924.0,312.8 L924.8,316.4 L925.5,318.7 L926.2,317.4 L927.0,311.8 L928.0,311.8 L929.0,309.1 L930.0,309.0 L931.0,309.0 L932.0,305.2 L933.2,309.2 L934.5,313.2 L935.8,309.4 L937.0,305.8 L938.0,307.2 L939.0,304.9 L940.0,303.0 L941.0,304.4 L942.0,301.8 L943.0,303.5 L944.0,301.8 L945.0,304.1 L946.0,307.0 L947.0,308.1 L948.0,308.9 L949.0,311.5 L949.1,312.5 L950.3,317.9 L951.5,322.2 L952.4,324.9 L953.3,326.1 L954.6,316.6 L955.9,325.2 L956.7,343.1 L957.6,359.0 L958.1,377.1 L958.8,362.5 L959.5,351.0 L960.3,345.3 L961.1,348.1 L961.9,350.9 L963.3,355.0 L964.5,343.1 L965.4,337.2 L966.2,331.4 L967.1,324.7 L967.9,319.4 L968.8,314.9 L969.7,312.2 L970.8,307.6 L972.0,304.1 L973.0,302.4 L974.0,300.7 L975.0,301.9 L976.0,300.2 L977.0,298.6 L978.0,298.1 L979.0,300.8 L980.0,301.2 L981.0,303.9 L982.0,306.2 L982.1,312.3 L983.5,314.6 L984.6,316.0 L985.7,321.1 L986.8,321.9 L987.8,322.5 L988.7,325.7 L989.5,329.4 L990.4,332.6 L991.3,336.3 L992.1,333.3 L993.0,330.9 L993.9,328.0 L994.7,325.5 L995.6,323.0 L996.4,318.6 L997.3,316.5 L998.2,312.6 L999.1,310.9 L1000.1,309.4 L1001.0,306.1 L1002.0,304.6 L1003.0,304.3 L1004.0,303.5 L1005.0,301.2 L1006.0,301.2 L1007.0,301.0 L1008.0,299.8 L1009.0,300.7 L1010.0,301.8 L1011.0,302.5 L1012.0,303.2 L1013.0,303.6 L1014.0,303.5 L1015.0,304.4 L1016.0,304.9 L1017.0,303.9 L1018.0,303.1 L1019.0,301.0 L1020.0,301.2 L1021.0,300.6 L1022.0,299.0 L1023.0,298.9 L1024.0,298.2 L1025.0,298.6 L1026.0,301.2 L1027.0,298.2 L1028.0,300.8 L1029.0,300.3 L1030.0,303.3 L1031.0,305.4 L1032.0,303.2 L1033.0,303.6 L1034.0,303.4 L1035.0,302.3 L1036.0,302.4 L1037.0,299.7 L1038.0,301.7 L1039.0,300.8 L1040.0,300.0 L1041.0,300.3 L1042.0,302.0 L1043.0,301.9 L1044.0,303.2 L1045.0,303.3 L1046.0,302.7 L1047.0,305.2 L1048.0,306.1 L1049.0,307.9 L1050.0,307.8 L1051.0,309.7 L1052.0,311.2 L1052.8,312.9 L1053.5,314.9 L1054.2,313.8 L1055.0,309.7 L1056.0,307.5 L1057.0,308.7 L1058.0,308.2 L1059.0,306.7 L1060.0,305.3 L1061.0,305.3 L1062.0,305.9 L1063.0,308.0 L1064.0,307.7 L1065.2,308.8 L1066.4,312.1 L1067.3,316.5 L1068.2,318.1 L1069.1,318.4 L1070.1,319.6 L1071.1,321.8 L1072.2,328.9 L1073.2,337.7 L1074.2,334.1 L1075.3,330.7 L1076.7,316.0 L1077.6,319.7 L1078.4,324.9 L1079.2,328.0 L1080.1,331.0 L1081.5,326.0 L1082.5,331.6 L1083.6,337.8 L1085.0,329.3 L1086.1,329.6 L1087.1,330.8 L1087.9,333.7 L1088.8,336.3 L1089.6,342.4 L1090.4,347.7 L1091.9,361.9 L1093.3,370.2 L1094.6,382.2 L1096.0,406.7 L1097.0,383.1 L1098.1,368.6 L1099.5,355.9 L1100.4,354.3 L1101.2,353.1 L1102.0,352.3 L1102.8,352.0 L1104.3,362.4 L1105.8,368.5 L1106.6,373.6 L1107.4,376.5 L1108.4,378.5 L1109.5,380.6 L1110.5,384.9 L1111.6,390.7 L1112.4,385.9 L1113.2,378.8 L1114.7,366.5 L1116.1,358.4 L1116.9,369.0 L1117.8,379.1 L1118.6,383.4 L1119.4,390.0 L1120.9,381.0 L1122.3,366.8 L1123.2,359.2 L1124.0,351.5 L1124.8,346.3 L1125.6,341.2 L1127.1,340.1 L1128.5,345.0 L1129.4,348.2 L1130.2,352.9 L1131.2,354.1 L1132.3,352.2 L1133.3,348.5 L1134.4,344.4 L1135.4,343.9 L1136.4,343.0 L1137.5,344.0 L1138.5,345.0 L1139.5,347.2 L1140.6,349.9 L1141.6,351.7 L1142.6,354.0 L1143.5,358.6 L1144.3,360.7 L1145.8,355.9 L1146.8,355.1 L1147.8,353.7 L1149.3,357.9 L1150.1,355.0 L1150.9,351.4 L1151.8,353.4 L1152.6,355.0 L1153.6,351.1 L1154.7,350.4 L1156.1,351.8 L1157.6,344.5 L1158.4,339.0" stroke="#ea3943" clip-path="url(#cd)"/>
</g>
<g id="wm" fill="none" stroke="#b3b9c9" stroke-width="2.1" stroke-linecap="round" stroke-linejoin="round" opacity="0.68">
<path d="M1000.0,343.6 A13.5,13.5 0 1 0 995.2,355.3"/>
<path d="M975.6,352.9 L982.3,341.2 Q984.3,338.0 985.6,341.4 L987.3,347.8 Q988,350.0 988.9,347.8 L991,341.4 Q992.6,337.8 994.0,341.4 L995.6,347.2 Q996.8,350.3 998.6,348.0 Q1000.0,346.2 1000.0,343.6"/>
</g>
<text x="1012.1" y="352.0" font-size="18.2" fill="#b3b9c9" stroke="#b3b9c9" stroke-width="0.9" stroke-linejoin="round" opacity="0.66" textLength="133.8" lengthAdjust="spacingAndGlyphs">CoinMarketCap</text>
<line x1="1158.5" x2="1158.5" y1="10" y2="478" stroke="#a0a3ab" stroke-width="1" stroke-dasharray="2 2"/>
<g clip-path="url(#cp)"><circle cx="1157.4" cy="339.6" r="6" fill="#fff"/><circle cx="1157.4" cy="339.6" r="4.2" fill="#ea3943"/></g>
<text x="39.6" y="446.4" font-size="13.4" fill="#8b8f9b" text-anchor="end" textLength="26.4" lengthAdjust="spacingAndGlyphs" stroke="#8b8f9b" stroke-width="0.3">330</text>
<text x="39.6" y="407.9" font-size="13.4" fill="#8b8f9b" text-anchor="end" textLength="26.4" lengthAdjust="spacingAndGlyphs" stroke="#8b8f9b" stroke-width="0.3">340</text>
<text x="39.6" y="369.4" font-size="13.4" fill="#8b8f9b" text-anchor="end" textLength="26.4" lengthAdjust="spacingAndGlyphs" stroke="#8b8f9b" stroke-width="0.3">350</text>
<text x="39.6" y="330.8" font-size="13.4" fill="#8b8f9b" text-anchor="end" textLength="26.4" lengthAdjust="spacingAndGlyphs" stroke="#8b8f9b" stroke-width="0.3">360</text>
<text x="39.6" y="292.3" font-size="13.4" fill="#8b8f9b" text-anchor="end" textLength="26.4" lengthAdjust="spacingAndGlyphs" stroke="#8b8f9b" stroke-width="0.3">370</text>
<text x="39.6" y="253.8" font-size="13.4" fill="#8b8f9b" text-anchor="end" textLength="26.4" lengthAdjust="spacingAndGlyphs" stroke="#8b8f9b" stroke-width="0.3">380</text>
<text x="39.6" y="215.3" font-size="13.4" fill="#8b8f9b" text-anchor="end" textLength="26.4" lengthAdjust="spacingAndGlyphs" stroke="#8b8f9b" stroke-width="0.3">390</text>
<text x="39.6" y="176.7" font-size="13.4" fill="#8b8f9b" text-anchor="end" textLength="26.4" lengthAdjust="spacingAndGlyphs" stroke="#8b8f9b" stroke-width="0.3">400</text>
<text x="39.6" y="138.2" font-size="13.4" fill="#8b8f9b" text-anchor="end" textLength="23.0" lengthAdjust="spacingAndGlyphs" stroke="#8b8f9b" stroke-width="0.3">410</text>
<text x="39.6" y="99.7" font-size="13.4" fill="#8b8f9b" text-anchor="end" textLength="26.4" lengthAdjust="spacingAndGlyphs" stroke="#8b8f9b" stroke-width="0.3">420</text>
<text x="39.6" y="61.1" font-size="13.4" fill="#8b8f9b" text-anchor="end" textLength="26.4" lengthAdjust="spacingAndGlyphs" stroke="#8b8f9b" stroke-width="0.3">430</text>
<text x="39.6" y="22.6" font-size="13.4" fill="#8b8f9b" text-anchor="end" textLength="26.4" lengthAdjust="spacingAndGlyphs" stroke="#8b8f9b" stroke-width="0.3">440</text>
<rect x="5.1" y="94.1" width="44.7" height="22.5" fill="#a1a4b0"/>
<text x="15.1" y="109.7" font-size="13" font-weight="bold" fill="#fff" textLength="23" lengthAdjust="spacingAndGlyphs">417</text>
<rect x="2.2" y="330.8" width="47.6" height="22.7" fill="#858ca6"/>
<text x="12.7" y="346.6" font-size="13" font-weight="bold" fill="#fff" textLength="26" lengthAdjust="spacingAndGlyphs">356</text>
<line x1="163.4" x2="163.4" y1="478.3" y2="482.6" stroke="#6f7380" stroke-width="1"/>
<text x="163.4" y="500.8" font-size="14" font-weight="bold" fill="#7f8494" text-anchor="middle" textLength="15.3" lengthAdjust="spacingAndGlyphs">16</text>
<line x1="322" x2="322" y1="478.3" y2="482.6" stroke="#6f7380" stroke-width="1"/>
<text x="322" y="500.8" font-size="14" font-weight="bold" fill="#7f8494" text-anchor="middle" textLength="15.3" lengthAdjust="spacingAndGlyphs">17</text>
<line x1="480.6" x2="480.6" y1="478.3" y2="482.6" stroke="#6f7380" stroke-width="1"/>
<text x="480.6" y="500.8" font-size="14" font-weight="bold" fill="#7f8494" text-anchor="middle" textLength="15.3" lengthAdjust="spacingAndGlyphs">18</text>
<line x1="639.2" x2="639.2" y1="478.3" y2="482.6" stroke="#6f7380" stroke-width="1"/>
<text x="639.2" y="500.8" font-size="14" font-weight="bold" fill="#7f8494" text-anchor="middle" textLength="15.3" lengthAdjust="spacingAndGlyphs">19</text>
<line x1="797.8" x2="797.8" y1="478.3" y2="482.6" stroke="#6f7380" stroke-width="1"/>
<text x="797.8" y="500.8" font-size="14" font-weight="bold" fill="#7f8494" text-anchor="middle" textLength="15.3" lengthAdjust="spacingAndGlyphs">20</text>
<line x1="956.4" x2="956.4" y1="478.3" y2="482.6" stroke="#6f7380" stroke-width="1"/>
<text x="956.4" y="500.8" font-size="14" font-weight="bold" fill="#7f8494" text-anchor="middle" textLength="15.3" lengthAdjust="spacingAndGlyphs">21</text>
<text x="8.1" y="500.2" font-size="14.8" font-weight="bold" fill="#7f8494" textLength="30.6" lengthAdjust="spacingAndGlyphs">USD</text>
<g id="nav">
<rect x="50.9" y="510.3" width="1108.3" height="62.3" fill="#eef1ff"/>
<path d="M51.2,524.7 L52.6,525.5 L53.9,525.6 L55.3,527.1 L56.5,526.7 L57.7,525.8 L58.9,525.3 L60.1,524.0 L61.3,524.8 L62.6,522.9 L63.8,522.2 L65.0,522.5 L66.3,522.1 L67.6,521.9 L68.9,522.3 L70.1,522.6 L71.4,521.7 L72.7,522.3 L74.0,522.7 L75.2,522.9 L76.4,522.5 L77.7,522.8 L78.9,522.7 L80.1,522.9 L81.4,523.5 L82.6,523.1 L83.8,521.9 L85.1,523.4 L86.3,523.0 L87.5,523.8 L88.7,523.4 L89.9,524.0 L91.1,525.3 L92.3,523.5 L93.5,523.5 L94.7,523.4 L95.9,523.0 L97.0,523.4 L98.2,524.8 L99.4,524.5 L100.7,523.8 L102.0,524.2 L103.2,525.7 L104.5,525.1 L105.8,525.5 L107.1,526.2 L108.3,527.0 L109.6,526.9 L110.9,526.8 L112.2,526.1 L113.4,525.9 L114.7,526.6 L116.0,526.2 L117.2,524.9 L118.5,525.2 L119.8,524.8 L120.9,524.4 L122.1,523.8 L123.2,523.0 L124.3,523.2 L125.5,522.4 L126.6,523.3 L127.7,523.7 L128.9,523.0 L130.1,524.9 L131.2,524.9 L132.4,524.2 L133.5,526.6 L134.6,526.9 L135.7,528.5 L136.8,527.8 L138.0,528.1 L139.2,527.8 L140.4,527.3 L141.6,527.0 L142.8,527.3 L144.1,525.4 L145.3,525.8 L146.5,525.1 L147.6,525.6 L148.8,525.5 L150.0,526.0 L151.2,525.9 L152.4,525.7 L153.6,525.2 L154.8,525.2 L156.0,526.0 L157.1,525.6 L158.3,525.5 L159.5,525.4 L160.7,526.6 L161.9,525.4 L163.1,526.3 L164.3,526.7 L165.5,525.9 L166.7,526.7 L167.8,525.6 L169.0,526.6 L170.3,526.6 L171.6,525.5 L172.9,526.9 L174.1,526.0 L175.4,527.4 L176.7,526.2 L177.9,526.6 L179.2,526.8 L180.4,527.1 L181.5,528.0 L182.6,528.1 L183.7,529.4 L184.9,529.6 L186.0,530.2 L187.2,528.2 L188.4,530.2 L189.6,529.3 L190.9,527.9 L192.1,528.7 L193.3,528.7 L194.5,528.3 L195.7,527.3 L196.9,528.7 L198.1,527.6 L199.3,529.0 L200.4,527.3 L201.6,527.7 L202.8,526.9 L204.0,526.3 L205.2,527.5 L206.4,526.9 L207.7,527.7 L208.9,527.4 L210.2,526.6 L211.5,526.1 L212.8,526.8 L214.0,526.8 L215.3,526.8 L216.6,527.6 L217.8,527.4 L219.1,526.7 L220.4,526.8 L221.7,526.4 L222.9,526.9 L224.1,527.5 L225.3,528.0 L226.5,527.3 L227.7,527.2 L228.9,529.3 L230.2,528.8 L231.4,529.4 L232.6,527.7 L233.9,528.4 L235.1,528.5 L236.3,527.6 L237.6,528.1 L238.8,528.8 L240.0,528.9 L241.3,529.2 L242.5,527.6 L243.7,527.8 L245.0,528.3 L246.3,528.5 L247.6,528.0 L248.8,527.0 L250.1,528.1 L251.4,528.1 L252.6,527.8 L253.9,527.3 L255.2,527.8 L256.5,528.3 L257.7,527.7 L259.0,527.2 L260.3,528.7 L261.6,529.0 L262.8,528.9 L264.1,529.3 L265.4,528.6 L266.7,528.8 L267.9,528.5 L269.2,528.9 L270.5,529.4 L271.7,528.2 L273.0,529.5 L274.3,528.5 L275.5,528.8 L276.7,528.8 L277.9,529.7 L279.1,528.8 L280.4,529.0 L281.6,528.6 L282.8,529.6 L284.0,530.8 L285.2,530.9 L286.4,531.4 L287.6,531.7 L288.8,532.5 L290.1,532.1 L291.3,533.8 L292.5,533.3 L293.8,532.9 L295.1,533.2 L296.4,533.2 L297.6,534.2 L298.9,534.4 L300.2,533.0 L301.5,534.1 L302.7,534.2 L304.0,533.2 L305.3,532.5 L306.6,532.7 L307.8,532.6 L309.1,533.0 L310.4,532.5 L311.6,532.0 L312.9,532.6 L314.1,531.5 L315.4,532.9 L316.6,531.5 L317.8,531.8 L319.1,531.6 L320.3,531.7 L321.5,532.8 L322.8,532.5 L324.0,532.2 L325.2,531.9 L326.5,530.9 L327.7,531.5 L328.9,531.5 L330.2,531.2 L331.4,532.1 L332.6,531.4 L333.9,531.4 L335.1,531.2 L336.3,530.6 L337.6,532.2 L338.8,532.1 L340.0,532.2 L341.2,531.8 L342.4,531.1 L343.7,533.1 L344.9,534.0 L346.1,533.7 L347.3,534.1 L348.6,534.6 L349.8,534.3 L351.1,533.2 L352.4,534.0 L353.7,533.7 L354.9,532.2 L356.2,532.7 L357.5,532.5 L358.7,533.2 L359.9,533.9 L361.1,533.3 L362.2,533.1 L363.4,535.5 L364.6,535.3 L365.8,536.3 L367.0,535.0 L368.2,536.8 L369.4,537.1 L370.6,537.5 L371.8,535.9 L373.0,535.9 L374.2,535.3 L375.4,535.7 L376.6,535.5 L377.9,534.6 L379.1,533.8 L380.3,535.2 L381.5,534.6 L382.7,535.3 L383.9,535.2 L385.1,536.1 L386.3,535.5 L387.5,535.2 L388.6,536.0 L389.7,537.1 L390.9,536.0 L392.0,536.9 L393.1,537.2 L394.4,537.2 L395.7,536.4 L397.0,534.9 L398.2,534.5 L399.5,534.9 L400.8,534.6 L402.1,535.5 L403.3,533.3 L404.6,534.0 L405.9,533.6 L407.1,532.0 L408.4,532.4 L409.7,532.8 L411.0,532.2 L412.2,532.2 L413.5,532.3 L414.7,531.5 L416.0,532.1 L417.2,531.2 L418.5,531.1 L419.7,531.6 L420.9,530.7 L422.2,531.0 L423.4,531.6 L424.6,530.5 L425.9,530.2 L427.1,530.3 L428.2,529.7 L429.4,530.4 L430.5,528.8 L431.6,529.8 L432.8,529.0 L433.9,528.9 L435.1,530.2 L436.4,528.6 L437.7,530.2 L438.9,529.5 L440.2,529.5 L441.4,528.6 L442.7,529.9 L443.9,530.1 L445.1,529.2 L446.4,529.2 L447.6,530.8 L448.8,529.4 L450.1,529.1 L451.3,529.0 L452.5,529.7 L453.8,529.5 L455.0,529.5 L456.2,530.4 L457.5,529.2 L458.7,529.6 L459.9,530.2 L461.2,528.7 L462.4,529.9 L463.6,530.3 L464.9,528.4 L466.1,528.5 L467.4,528.9 L468.6,528.1 L469.8,529.6 L471.1,528.3 L472.3,529.8 L473.5,530.4 L474.8,528.7 L476.0,529.6 L477.2,528.7 L478.5,530.4 L479.7,529.6 L480.9,530.1 L482.1,530.2 L483.4,530.5 L484.6,530.0 L485.8,530.2 L487.0,529.9 L488.2,530.3 L489.4,529.6 L490.6,530.4 L491.8,529.2 L493.1,530.1 L494.3,531.5 L495.5,530.5 L496.7,529.7 L497.9,530.5 L499.1,530.0 L500.3,529.7 L501.5,530.3 L502.8,531.3 L504.0,531.2 L505.2,531.0 L506.4,530.6 L507.6,530.6 L508.8,532.1 L510.0,531.6 L511.3,531.0 L512.5,530.4 L513.7,530.9 L514.9,532.4 L516.1,531.2 L517.4,531.9 L518.6,532.1 L519.8,532.0 L521.1,532.0 L522.3,531.4 L523.5,531.6 L524.8,533.3 L526.0,531.9 L527.2,532.9 L528.5,532.1 L529.7,532.4 L530.9,532.8 L532.2,533.4 L533.4,532.2 L534.6,533.3 L535.9,533.3 L537.1,532.7 L538.4,533.5 L539.6,532.8 L540.8,533.0 L542.1,533.5 L543.3,531.8 L544.5,533.3 L545.8,532.7 L547.0,532.4 L548.2,533.0 L549.5,533.6 L550.7,532.8 L551.9,533.8 L553.2,532.3 L554.4,532.1 L555.6,533.2 L556.9,533.1 L558.1,533.5 L559.3,532.4 L560.6,533.4 L561.8,533.2 L563.0,533.4 L564.3,533.1 L565.5,533.8 L566.7,532.7 L568.0,532.6 L569.2,532.8 L570.5,534.0 L571.8,532.9 L573.0,532.8 L574.3,533.0 L575.6,533.3 L576.9,532.9 L578.1,533.6 L579.4,533.7 L580.6,533.5 L581.9,533.2 L583.1,533.7 L584.3,533.3 L585.6,533.6 L586.8,533.6 L588.0,533.6 L589.3,532.1 L590.5,533.0 L591.8,532.8 L593.0,533.4 L594.2,532.2 L595.5,532.8 L596.7,533.0 L597.9,533.0 L599.2,533.8 L600.4,532.9 L601.6,533.8 L602.9,532.3 L604.1,532.1 L605.3,533.9 L606.6,533.3 L607.8,533.4 L609.0,533.2 L610.3,533.4 L611.5,532.3 L612.7,533.6 L614.0,532.7 L615.2,533.6 L616.4,533.0 L617.7,531.7 L618.9,532.1 L620.2,533.1 L621.4,532.7 L622.6,532.6 L623.8,532.9 L625.0,532.5 L626.2,532.4 L627.4,532.8 L628.6,532.8 L629.9,533.6 L631.1,532.7 L632.3,533.7 L633.5,533.7 L634.7,533.6 L635.9,533.2 L637.1,532.5 L638.4,532.7 L639.6,532.6 L640.8,532.3 L642.1,532.8 L643.3,532.6 L644.5,534.0 L645.8,533.5 L647.0,533.0 L648.2,532.2 L649.5,533.4 L650.7,533.4 L652.0,533.1 L653.3,533.4 L654.5,532.9 L655.8,534.9 L657.1,534.8 L658.4,536.6 L659.6,535.3 L660.9,535.5 L662.2,536.2 L663.4,535.1 L664.7,534.9 L666.0,534.3 L667.3,533.9 L668.5,534.9 L669.8,534.4 L671.1,533.9 L672.4,533.1 L673.6,533.0 L674.9,532.2 L676.2,533.1 L677.5,531.4 L678.7,532.3 L680.0,532.4 L681.3,531.8 L682.5,530.7 L683.8,531.7 L685.1,530.4 L686.4,530.2 L687.6,529.6 L688.9,530.9 L690.2,531.0 L691.5,529.6 L692.6,529.2 L693.7,529.2 L694.9,530.8 L696.0,529.7 L697.1,528.6 L698.3,528.3 L699.4,528.5 L700.5,529.8 L701.6,530.4 L702.8,529.3 L703.9,529.2 L705.0,529.7 L706.2,528.5 L707.3,530.1 L708.4,528.8 L709.6,530.0 L710.7,528.2 L711.8,528.8 L713.1,529.5 L714.4,529.0 L715.7,530.1 L716.9,529.8 L718.2,529.3 L719.5,530.5 L720.7,530.8 L722.0,530.0 L723.3,531.6 L724.6,530.9 L725.8,531.1 L727.1,529.5 L728.4,530.2 L729.7,530.5 L730.9,531.4 L732.2,530.5 L733.3,530.8 L734.5,530.6 L735.6,532.2 L736.7,533.1 L737.9,532.3 L739.0,533.7 L740.2,534.1 L741.4,534.7 L742.6,534.1 L743.8,533.5 L745.1,532.9 L746.3,533.0 L747.5,533.4 L748.8,534.2 L750.0,534.7 L751.3,536.3 L752.6,536.0 L753.9,535.1 L755.1,536.5 L756.4,536.0 L757.7,535.3 L758.9,534.6 L760.2,533.8 L761.5,534.1 L762.8,534.8 L764.0,534.6 L765.3,534.8 L766.6,536.2 L767.9,536.6 L769.0,538.4 L770.1,539.9 L771.2,541.8 L772.3,542.2 L773.6,542.3 L775.0,540.4 L776.3,540.5 L777.5,540.4 L778.7,540.4 L779.9,540.8 L781.1,540.2 L782.3,540.8 L783.5,540.6 L784.6,540.2 L785.8,539.7 L787.0,539.6 L788.2,539.8 L789.4,540.0 L790.7,540.2 L791.9,542.1 L793.1,540.9 L794.4,541.1 L795.6,540.2 L796.8,540.4 L798.1,540.8 L799.3,541.2 L800.5,540.6 L801.8,541.7 L802.9,541.7 L804.0,543.5 L805.2,542.1 L806.3,544.3 L807.4,545.2 L808.6,545.8 L809.8,545.9 L811.1,545.6 L812.4,545.3 L813.7,543.9 L814.9,544.5 L816.2,543.3 L817.5,544.9 L818.7,544.5 L820.0,544.4 L821.3,544.2 L822.6,544.5 L823.8,546.2 L825.1,546.3 L826.4,545.4 L827.7,546.4 L828.9,545.4 L830.1,545.3 L831.4,546.9 L832.6,547.4 L833.8,548.3 L835.0,549.5 L836.2,551.9 L837.4,550.7 L838.6,551.8 L839.7,552.8 L840.9,553.5 L842.0,554.9 L843.2,555.7 L844.4,553.7 L845.6,553.7 L846.9,552.7 L848.1,552.2 L849.3,550.8 L850.6,549.9 L851.9,549.4 L853.1,550.9 L854.4,550.4 L855.7,550.2 L856.9,548.5 L858.2,549.5 L859.5,549.3 L860.7,548.7 L862.0,549.1 L863.2,550.1 L864.4,550.1 L865.7,549.8 L866.9,550.2 L868.1,549.6 L869.4,550.0 L870.6,550.1 L871.8,550.4 L873.1,550.1 L874.3,550.0 L875.6,549.9 L876.9,549.5 L878.2,551.2 L879.4,550.0 L880.7,549.9 L882.0,550.9 L883.3,549.8 L884.5,549.0 L885.6,550.9 L886.8,551.4 L888.0,552.5 L889.2,552.6 L890.4,552.8 L891.6,552.1 L892.8,552.8 L894.0,553.9 L895.1,554.4 L896.3,553.4 L897.5,553.5 L898.7,553.3 L899.9,553.3 L901.1,553.2 L902.3,552.6 L903.5,551.8 L904.7,553.1 L905.8,553.1 L907.0,551.8 L908.3,552.3 L909.6,551.9 L910.9,551.9 L912.1,551.6 L913.4,550.8 L914.7,551.4 L915.9,551.6 L917.2,550.6 L918.5,552.6 L919.8,553.2 L921.0,553.6 L922.3,554.2 L923.6,554.0 L924.9,553.9 L926.1,554.3 L927.4,555.1 L928.5,556.9 L929.6,558.5 L930.7,560.5 L931.8,561.2 L933.0,562.3 L934.1,561.4 L935.3,559.2 L936.4,558.9 L937.6,557.7 L938.7,557.2 L939.9,556.4 L941.0,555.9 L942.1,554.9 L943.3,554.9 L944.4,554.2 L945.6,554.4 L946.9,553.6 L948.1,554.1 L949.3,554.0 L950.6,554.3 L951.8,553.2 L953.0,554.1 L954.3,554.3 L955.5,554.0 L956.7,553.4 L958.0,553.4 L959.2,553.8 L960.5,554.8 L961.8,555.8 L963.1,555.2 L964.3,555.3 L965.6,556.3 L966.9,556.7 L968.2,556.7 L969.4,556.1 L970.7,556.0 L972.0,556.1 L973.2,554.5 L974.5,554.2 L975.8,554.7 L977.1,553.2 L978.3,553.6 L979.6,553.5 L980.8,552.9 L982.0,552.1 L983.3,552.4 L984.5,552.0 L985.7,552.1 L987.0,551.1 L988.2,552.0 L989.5,550.1 L990.7,550.7 L991.9,550.5 L993.2,551.0 L994.4,550.0 L995.6,550.6 L996.9,549.9 L998.1,550.6 L999.3,551.2 L1000.6,549.8 L1001.8,550.3 L1003.0,549.4 L1004.3,550.5 L1005.5,550.1 L1006.8,549.8 L1008.1,549.0 L1009.3,549.8 L1010.6,550.2 L1011.9,550.1 L1013.1,549.8 L1014.4,548.1 L1015.7,549.0 L1016.9,550.2 L1018.2,548.7 L1019.4,550.3 L1020.6,550.9 L1021.9,550.4 L1023.1,550.7 L1024.3,550.0 L1025.6,549.6 L1026.8,550.5 L1028.0,550.6 L1029.3,550.8 L1030.5,551.6 L1031.8,551.4 L1033.1,552.0 L1034.4,552.5 L1035.6,552.5 L1036.9,554.0 L1038.2,553.5 L1039.5,553.6 L1040.7,553.2 L1042.0,552.8 L1043.3,553.7 L1044.6,552.8 L1045.8,551.8 L1047.1,551.9 L1048.4,552.0 L1049.6,551.8 L1050.9,552.9 L1052.2,552.0 L1053.5,553.4 L1054.7,553.6 L1056.0,553.3 L1057.3,554.4 L1058.6,554.8 L1059.8,555.4 L1061.1,555.1 L1062.4,555.6 L1063.7,554.5 L1064.9,554.9 L1066.2,556.2 L1067.5,556.4 L1068.7,555.8 L1070.0,555.8 L1071.2,557.0 L1072.4,555.5 L1073.6,556.7 L1074.8,558.0 L1076.0,558.4 L1077.2,557.8 L1078.3,557.7 L1079.5,560.1 L1080.7,559.7 L1081.9,559.8 L1083.0,560.9 L1084.2,562.4 L1085.3,561.2 L1086.4,564.3 L1087.6,565.0 L1088.7,564.9 L1089.8,563.9 L1091.0,560.3 L1092.1,559.6 L1093.2,559.6 L1094.4,560.7 L1095.5,559.0 L1096.6,559.3 L1097.8,560.0 L1098.9,559.2 L1100.0,559.5 L1101.1,560.2 L1102.3,561.0 L1103.4,560.9 L1104.5,562.4 L1105.7,562.9 L1106.8,562.5 L1107.9,563.2 L1109.1,561.7 L1110.2,562.4 L1111.3,561.0 L1112.5,561.2 L1113.7,559.0 L1115.0,559.4 L1116.3,558.4 L1117.6,557.5 L1118.8,557.3 L1120.0,557.5 L1121.3,557.4 L1122.5,556.6 L1123.7,557.6 L1125.0,557.7 L1126.2,557.7 L1127.4,557.5 L1128.7,558.1 L1129.9,558.7 L1131.1,558.3 L1132.4,558.1 L1133.6,559.3 L1134.8,559.2 L1136.1,559.2 L1137.3,559.5 L1138.5,558.7 L1139.8,558.9 L1141.0,559.7 L1142.3,558.8 L1143.5,559.2 L1144.7,559.4 L1146.0,559.4 L1147.3,558.9 L1148.5,559.5 L1149.8,558.7 L1151.1,559.1 L1152.4,559.2 L1153.6,558.8 L1154.9,558.5 L1156.3,557.3 L1157.6,556.8 L1159.0,557.1 L1159.2,557.1 L1159.2,572.6 L50.9,572.6 L50.9,524.7Z" fill="#dfe4fc"/>
<line x1="209.2" x2="209.2" y1="510.3" y2="572.6" stroke="#d9def3" stroke-width="1"/>
<line x1="389.2" x2="389.2" y1="510.3" y2="572.6" stroke="#d9def3" stroke-width="1"/>
<line x1="569.2" x2="569.2" y1="510.3" y2="572.6" stroke="#d9def3" stroke-width="1"/>
<line x1="749.2" x2="749.2" y1="510.3" y2="572.6" stroke="#d9def3" stroke-width="1"/>
<line x1="929.6" x2="929.6" y1="510.3" y2="572.6" stroke="#d9def3" stroke-width="1"/>
<line x1="1109.7" x2="1109.7" y1="510.3" y2="572.6" stroke="#d9def3" stroke-width="1"/>
<path d="M50.9,524.7 L51.2,524.7 L52.6,525.5 L53.9,525.6 L55.3,527.1 L56.5,526.7 L57.7,525.8 L58.9,525.3 L60.1,524.0 L61.3,524.8 L62.6,522.9 L63.8,522.2 L65.0,522.5 L66.3,522.1 L67.6,521.9 L68.9,522.3 L70.1,522.6 L71.4,521.7 L72.7,522.3 L74.0,522.7 L75.2,522.9 L76.4,522.5 L77.7,522.8 L78.9,522.7 L80.1,522.9 L81.4,523.5 L82.6,523.1 L83.8,521.9 L85.1,523.4 L86.3,523.0 L87.5,523.8 L88.7,523.4 L89.9,524.0 L91.1,525.3 L92.3,523.5 L93.5,523.5 L94.7,523.4 L95.9,523.0 L97.0,523.4 L98.2,524.8 L99.4,524.5 L100.7,523.8 L102.0,524.2 L103.2,525.7 L104.5,525.1 L105.8,525.5 L107.1,526.2 L108.3,527.0 L109.6,526.9 L110.9,526.8 L112.2,526.1 L113.4,525.9 L114.7,526.6 L116.0,526.2 L117.2,524.9 L118.5,525.2 L119.8,524.8 L120.9,524.4 L122.1,523.8 L123.2,523.0 L124.3,523.2 L125.5,522.4 L126.6,523.3 L127.7,523.7 L128.9,523.0 L130.1,524.9 L131.2,524.9 L132.4,524.2 L133.5,526.6 L134.6,526.9 L135.7,528.5 L136.8,527.8 L138.0,528.1 L139.2,527.8 L140.4,527.3 L141.6,527.0 L142.8,527.3 L144.1,525.4 L145.3,525.8 L146.5,525.1 L147.6,525.6 L148.8,525.5 L150.0,526.0 L151.2,525.9 L152.4,525.7 L153.6,525.2 L154.8,525.2 L156.0,526.0 L157.1,525.6 L158.3,525.5 L159.5,525.4 L160.7,526.6 L161.9,525.4 L163.1,526.3 L164.3,526.7 L165.5,525.9 L166.7,526.7 L167.8,525.6 L169.0,526.6 L170.3,526.6 L171.6,525.5 L172.9,526.9 L174.1,526.0 L175.4,527.4 L176.7,526.2 L177.9,526.6 L179.2,526.8 L180.4,527.1 L181.5,528.0 L182.6,528.1 L183.7,529.4 L184.9,529.6 L186.0,530.2 L187.2,528.2 L188.4,530.2 L189.6,529.3 L190.9,527.9 L192.1,528.7 L193.3,528.7 L194.5,528.3 L195.7,527.3 L196.9,528.7 L198.1,527.6 L199.3,529.0 L200.4,527.3 L201.6,527.7 L202.8,526.9 L204.0,526.3 L205.2,527.5 L206.4,526.9 L207.7,527.7 L208.9,527.4 L210.2,526.6 L211.5,526.1 L212.8,526.8 L214.0,526.8 L215.3,526.8 L216.6,527.6 L217.8,527.4 L219.1,526.7 L220.4,526.8 L221.7,526.4 L222.9,526.9 L224.1,527.5 L225.3,528.0 L226.5,527.3 L227.7,527.2 L228.9,529.3 L230.2,528.8 L231.4,529.4 L232.6,527.7 L233.9,528.4 L235.1,528.5 L236.3,527.6 L237.6,528.1 L238.8,528.8 L240.0,528.9 L241.3,529.2 L242.5,527.6 L243.7,527.8 L245.0,528.3 L246.3,528.5 L247.6,528.0 L248.8,527.0 L250.1,528.1 L251.4,528.1 L252.6,527.8 L253.9,527.3 L255.2,527.8 L256.5,528.3 L257.7,527.7 L259.0,527.2 L260.3,528.7 L261.6,529.0 L262.8,528.9 L264.1,529.3 L265.4,528.6 L266.7,528.8 L267.9,528.5 L269.2,528.9 L270.5,529.4 L271.7,528.2 L273.0,529.5 L274.3,528.5 L275.5,528.8 L276.7,528.8 L277.9,529.7 L279.1,528.8 L280.4,529.0 L281.6,528.6 L282.8,529.6 L284.0,530.8 L285.2,530.9 L286.4,531.4 L287.6,531.7 L288.8,532.5 L290.1,532.1 L291.3,533.8 L292.5,533.3 L293.8,532.9 L295.1,533.2 L296.4,533.2 L297.6,534.2 L298.9,534.4 L300.2,533.0 L301.5,534.1 L302.7,534.2 L304.0,533.2 L305.3,532.5 L306.6,532.7 L307.8,532.6 L309.1,533.0 L310.4,532.5 L311.6,532.0 L312.9,532.6 L314.1,531.5 L315.4,532.9 L316.6,531.5 L317.8,531.8 L319.1,531.6 L320.3,531.7 L321.5,532.8 L322.8,532.5 L324.0,532.2 L325.2,531.9 L326.5,530.9 L327.7,531.5 L328.9,531.5 L330.2,531.2 L331.4,532.1 L332.6,531.4 L333.9,531.4 L335.1,531.2 L336.3,530.6 L337.6,532.2 L338.8,532.1 L340.0,532.2 L341.2,531.8 L342.4,531.1 L343.7,533.1 L344.9,534.0 L346.1,533.7 L347.3,534.1 L348.6,534.6 L349.8,534.3 L351.1,533.2 L352.4,534.0 L353.7,533.7 L354.9,532.2 L356.2,532.7 L357.5,532.5 L358.7,533.2 L359.9,533.9 L361.1,533.3 L362.2,533.1 L363.4,535.5 L364.6,535.3 L365.8,536.3 L367.0,535.0 L368.2,536.8 L369.4,537.1 L370.6,537.5 L371.8,535.9 L373.0,535.9 L374.2,535.3 L375.4,535.7 L376.6,535.5 L377.9,534.6 L379.1,533.8 L380.3,535.2 L381.5,534.6 L382.7,535.3 L383.9,535.2 L385.1,536.1 L386.3,535.5 L387.5,535.2 L388.6,536.0 L389.7,537.1 L390.9,536.0 L392.0,536.9 L393.1,537.2 L394.4,537.2 L395.7,536.4 L397.0,534.9 L398.2,534.5 L399.5,534.9 L400.8,534.6 L402.1,535.5 L403.3,533.3 L404.6,534.0 L405.9,533.6 L407.1,532.0 L408.4,532.4 L409.7,532.8 L411.0,532.2 L412.2,532.2 L413.5,532.3 L414.7,531.5 L416.0,532.1 L417.2,531.2 L418.5,531.1 L419.7,531.6 L420.9,530.7 L422.2,531.0 L423.4,531.6 L424.6,530.5 L425.9,530.2 L427.1,530.3 L428.2,529.7 L429.4,530.4 L430.5,528.8 L431.6,529.8 L432.8,529.0 L433.9,528.9 L435.1,530.2 L436.4,528.6 L437.7,530.2 L438.9,529.5 L440.2,529.5 L441.4,528.6 L442.7,529.9 L443.9,530.1 L445.1,529.2 L446.4,529.2 L447.6,530.8 L448.8,529.4 L450.1,529.1 L451.3,529.0 L452.5,529.7 L453.8,529.5 L455.0,529.5 L456.2,530.4 L457.5,529.2 L458.7,529.6 L459.9,530.2 L461.2,528.7 L462.4,529.9 L463.6,530.3 L464.9,528.4 L466.1,528.5 L467.4,528.9 L468.6,528.1 L469.8,529.6 L471.1,528.3 L472.3,529.8 L473.5,530.4 L474.8,528.7 L476.0,529.6 L477.2,528.7 L478.5,530.4 L479.7,529.6 L480.9,530.1 L482.1,530.2 L483.4,530.5 L484.6,530.0 L485.8,530.2 L487.0,529.9 L488.2,530.3 L489.4,529.6 L490.6,530.4 L491.8,529.2 L493.1,530.1 L494.3,531.5 L495.5,530.5 L496.7,529.7 L497.9,530.5 L499.1,530.0 L500.3,529.7 L501.5,530.3 L502.8,531.3 L504.0,531.2 L505.2,531.0 L506.4,530.6 L507.6,530.6 L508.8,532.1 L510.0,531.6 L511.3,531.0 L512.5,530.4 L513.7,530.9 L514.9,532.4 L516.1,531.2 L517.4,531.9 L518.6,532.1 L519.8,532.0 L521.1,532.0 L522.3,531.4 L523.5,531.6 L524.8,533.3 L526.0,531.9 L527.2,532.9 L528.5,532.1 L529.7,532.4 L530.9,532.8 L532.2,533.4 L533.4,532.2 L534.6,533.3 L535.9,533.3 L537.1,532.7 L538.4,533.5 L539.6,532.8 L540.8,533.0 L542.1,533.5 L543.3,531.8 L544.5,533.3 L545.8,532.7 L547.0,532.4 L548.2,533.0 L549.5,533.6 L550.7,532.8 L551.9,533.8 L553.2,532.3 L554.4,532.1 L555.6,533.2 L556.9,533.1 L558.1,533.5 L559.3,532.4 L560.6,533.4 L561.8,533.2 L563.0,533.4 L564.3,533.1 L565.5,533.8 L566.7,532.7 L568.0,532.6 L569.2,532.8 L570.5,534.0 L571.8,532.9 L573.0,532.8 L574.3,533.0 L575.6,533.3 L576.9,532.9 L578.1,533.6 L579.4,533.7 L580.6,533.5 L581.9,533.2 L583.1,533.7 L584.3,533.3 L585.6,533.6 L586.8,533.6 L588.0,533.6 L589.3,532.1 L590.5,533.0 L591.8,532.8 L593.0,533.4 L594.2,532.2 L595.5,532.8 L596.7,533.0 L597.9,533.0 L599.2,533.8 L600.4,532.9 L601.6,533.8 L602.9,532.3 L604.1,532.1 L605.3,533.9 L606.6,533.3 L607.8,533.4 L609.0,533.2 L610.3,533.4 L611.5,532.3 L612.7,533.6 L614.0,532.7 L615.2,533.6 L616.4,533.0 L617.7,531.7 L618.9,532.1 L620.2,533.1 L621.4,532.7 L622.6,532.6 L623.8,532.9 L625.0,532.5 L626.2,532.4 L627.4,532.8 L628.6,532.8 L629.9,533.6 L631.1,532.7 L632.3,533.7 L633.5,533.7 L634.7,533.6 L635.9,533.2 L637.1,532.5 L638.4,532.7 L639.6,532.6 L640.8,532.3 L642.1,532.8 L643.3,532.6 L644.5,534.0 L645.8,533.5 L647.0,533.0 L648.2,532.2 L649.5,533.4 L650.7,533.4 L652.0,533.1 L653.3,533.4 L654.5,532.9 L655.8,534.9 L657.1,534.8 L658.4,536.6 L659.6,535.3 L660.9,535.5 L662.2,536.2 L663.4,535.1 L664.7,534.9 L666.0,534.3 L667.3,533.9 L668.5,534.9 L669.8,534.4 L671.1,533.9 L672.4,533.1 L673.6,533.0 L674.9,532.2 L676.2,533.1 L677.5,531.4 L678.7,532.3 L680.0,532.4 L681.3,531.8 L682.5,530.7 L683.8,531.7 L685.1,530.4 L686.4,530.2 L687.6,529.6 L688.9,530.9 L690.2,531.0 L691.5,529.6 L692.6,529.2 L693.7,529.2 L694.9,530.8 L696.0,529.7 L697.1,528.6 L698.3,528.3 L699.4,528.5 L700.5,529.8 L701.6,530.4 L702.8,529.3 L703.9,529.2 L705.0,529.7 L706.2,528.5 L707.3,530.1 L708.4,528.8 L709.6,530.0 L710.7,528.2 L711.8,528.8 L713.1,529.5 L714.4,529.0 L715.7,530.1 L716.9,529.8 L718.2,529.3 L719.5,530.5 L720.7,530.8 L722.0,530.0 L723.3,531.6 L724.6,530.9 L725.8,531.1 L727.1,529.5 L728.4,530.2 L729.7,530.5 L730.9,531.4 L732.2,530.5 L733.3,530.8 L734.5,530.6 L735.6,532.2 L736.7,533.1 L737.9,532.3 L739.0,533.7 L740.2,534.1 L741.4,534.7 L742.6,534.1 L743.8,533.5 L745.1,532.9 L746.3,533.0 L747.5,533.4 L748.8,534.2 L750.0,534.7 L751.3,536.3 L752.6,536.0 L753.9,535.1 L755.1,536.5 L756.4,536.0 L757.7,535.3 L758.9,534.6 L760.2,533.8 L761.5,534.1 L762.8,534.8 L764.0,534.6 L765.3,534.8 L766.6,536.2 L767.9,536.6 L769.0,538.4 L770.1,539.9 L771.2,541.8 L772.3,542.2 L773.6,542.3 L775.0,540.4 L776.3,540.5 L777.5,540.4 L778.7,540.4 L779.9,540.8 L781.1,540.2 L782.3,540.8 L783.5,540.6 L784.6,540.2 L785.8,539.7 L787.0,539.6 L788.2,539.8 L789.4,540.0 L790.7,540.2 L791.9,542.1 L793.1,540.9 L794.4,541.1 L795.6,540.2 L796.8,540.4 L798.1,540.8 L799.3,541.2 L800.5,540.6 L801.8,541.7 L802.9,541.7 L804.0,543.5 L805.2,542.1 L806.3,544.3 L807.4,545.2 L808.6,545.8 L809.8,545.9 L811.1,545.6 L812.4,545.3 L813.7,543.9 L814.9,544.5 L816.2,543.3 L817.5,544.9 L818.7,544.5 L820.0,544.4 L821.3,544.2 L822.6,544.5 L823.8,546.2 L825.1,546.3 L826.4,545.4 L827.7,546.4 L828.9,545.4 L830.1,545.3 L831.4,546.9 L832.6,547.4 L833.8,548.3 L835.0,549.5 L836.2,551.9 L837.4,550.7 L838.6,551.8 L839.7,552.8 L840.9,553.5 L842.0,554.9 L843.2,555.7 L844.4,553.7 L845.6,553.7 L846.9,552.7 L848.1,552.2 L849.3,550.8 L850.6,549.9 L851.9,549.4 L853.1,550.9 L854.4,550.4 L855.7,550.2 L856.9,548.5 L858.2,549.5 L859.5,549.3 L860.7,548.7 L862.0,549.1 L863.2,550.1 L864.4,550.1 L865.7,549.8 L866.9,550.2 L868.1,549.6 L869.4,550.0 L870.6,550.1 L871.8,550.4 L873.1,550.1 L874.3,550.0 L875.6,549.9 L876.9,549.5 L878.2,551.2 L879.4,550.0 L880.7,549.9 L882.0,550.9 L883.3,549.8 L884.5,549.0 L885.6,550.9 L886.8,551.4 L888.0,552.5 L889.2,552.6 L890.4,552.8 L891.6,552.1 L892.8,552.8 L894.0,553.9 L895.1,554.4 L896.3,553.4 L897.5,553.5 L898.7,553.3 L899.9,553.3 L901.1,553.2 L902.3,552.6 L903.5,551.8 L904.7,553.1 L905.8,553.1 L907.0,551.8 L908.3,552.3 L909.6,551.9 L910.9,551.9 L912.1,551.6 L913.4,550.8 L914.7,551.4 L915.9,551.6 L917.2,550.6 L918.5,552.6 L919.8,553.2 L921.0,553.6 L922.3,554.2 L923.6,554.0 L924.9,553.9 L926.1,554.3 L927.4,555.1 L928.5,556.9 L929.6,558.5 L930.7,560.5 L931.8,561.2 L933.0,562.3 L934.1,561.4 L935.3,559.2 L936.4,558.9 L937.6,557.7 L938.7,557.2 L939.9,556.4 L941.0,555.9 L942.1,554.9 L943.3,554.9 L944.4,554.2 L945.6,554.4 L946.9,553.6 L948.1,554.1 L949.3,554.0 L950.6,554.3 L951.8,553.2 L953.0,554.1 L954.3,554.3 L955.5,554.0 L956.7,553.4 L958.0,553.4 L959.2,553.8 L960.5,554.8 L961.8,555.8 L963.1,555.2 L964.3,555.3 L965.6,556.3 L966.9,556.7 L968.2,556.7 L969.4,556.1 L970.7,556.0 L972.0,556.1 L973.2,554.5 L974.5,554.2 L975.8,554.7 L977.1,553.2 L978.3,553.6 L979.6,553.5 L980.8,552.9 L982.0,552.1 L983.3,552.4 L984.5,552.0 L985.7,552.1 L987.0,551.1 L988.2,552.0 L989.5,550.1 L990.7,550.7 L991.9,550.5 L993.2,551.0 L994.4,550.0 L995.6,550.6 L996.9,549.9 L998.1,550.6 L999.3,551.2 L1000.6,549.8 L1001.8,550.3 L1003.0,549.4 L1004.3,550.5 L1005.5,550.1 L1006.8,549.8 L1008.1,549.0 L1009.3,549.8 L1010.6,550.2 L1011.9,550.1 L1013.1,549.8 L1014.4,548.1 L1015.7,549.0 L1016.9,550.2 L1018.2,548.7 L1019.4,550.3 L1020.6,550.9 L1021.9,550.4 L1023.1,550.7 L1024.3,550.0 L1025.6,549.6 L1026.8,550.5 L1028.0,550.6 L1029.3,550.8 L1030.5,551.6 L1031.8,551.4 L1033.1,552.0 L1034.4,552.5 L1035.6,552.5 L1036.9,554.0 L1038.2,553.5 L1039.5,553.6 L1040.7,553.2 L1042.0,552.8 L1043.3,553.7 L1044.6,552.8 L1045.8,551.8 L1047.1,551.9 L1048.4,552.0 L1049.6,551.8 L1050.9,552.9 L1052.2,552.0 L1053.5,553.4 L1054.7,553.6 L1056.0,553.3 L1057.3,554.4 L1058.6,554.8 L1059.8,555.4 L1061.1,555.1 L1062.4,555.6 L1063.7,554.5 L1064.9,554.9 L1066.2,556.2 L1067.5,556.4 L1068.7,555.8 L1070.0,555.8 L1071.2,557.0 L1072.4,555.5 L1073.6,556.7 L1074.8,558.0 L1076.0,558.4 L1077.2,557.8 L1078.3,557.7 L1079.5,560.1 L1080.7,559.7 L1081.9,559.8 L1083.0,560.9 L1084.2,562.4 L1085.3,561.2 L1086.4,564.3 L1087.6,565.0 L1088.7,564.9 L1089.8,563.9 L1091.0,560.3 L1092.1,559.6 L1093.2,559.6 L1094.4,560.7 L1095.5,559.0 L1096.6,559.3 L1097.8,560.0 L1098.9,559.2 L1100.0,559.5 L1101.1,560.2 L1102.3,561.0 L1103.4,560.9 L1104.5,562.4 L1105.7,562.9 L1106.8,562.5 L1107.9,563.2 L1109.1,561.7 L1110.2,562.4 L1111.3,561.0 L1112.5,561.2 L1113.7,559.0 L1115.0,559.4 L1116.3,558.4 L1117.6,557.5 L1118.8,557.3 L1120.0,557.5 L1121.3,557.4 L1122.5,556.6 L1123.7,557.6 L1125.0,557.7 L1126.2,557.7 L1127.4,557.5 L1128.7,558.1 L1129.9,558.7 L1131.1,558.3 L1132.4,558.1 L1133.6,559.3 L1134.8,559.2 L1136.1,559.2 L1137.3,559.5 L1138.5,558.7 L1139.8,558.9 L1141.0,559.7 L1142.3,558.8 L1143.5,559.2 L1144.7,559.4 L1146.0,559.4 L1147.3,558.9 L1148.5,559.5 L1149.8,558.7 L1151.1,559.1 L1152.4,559.2 L1153.6,558.8 L1154.9,558.5 L1156.3,557.3 L1157.6,556.8 L1159.0,557.1 L1159.2,557.1" fill="none" stroke="#4a78e4" stroke-width="1.2" stroke-linejoin="round"/>
<text x="164.4" y="563.6" font-size="14.3" font-weight="bold" fill="#858ba3" text-anchor="middle" textLength="15.4" lengthAdjust="spacingAndGlyphs">16</text>
<text x="323" y="563.6" font-size="14.3" font-weight="bold" fill="#858ba3" text-anchor="middle" textLength="15.4" lengthAdjust="spacingAndGlyphs">17</text>
<text x="481.4" y="563.6" font-size="14.3" font-weight="bold" fill="#858ba3" text-anchor="middle" textLength="15.4" lengthAdjust="spacingAndGlyphs">18</text>
<text x="640" y="563.6" font-size="14.3" font-weight="bold" fill="#858ba3" text-anchor="middle" textLength="15.4" lengthAdjust="spacingAndGlyphs">19</text>
<text x="798.7" y="563.6" font-size="14.3" font-weight="bold" fill="#858ba3" text-anchor="middle" textLength="15.4" lengthAdjust="spacingAndGlyphs">20</text>
<text x="956.8" y="563.6" font-size="14.3" font-weight="bold" fill="#858ba3" text-anchor="middle" textLength="15.4" lengthAdjust="spacingAndGlyphs">21</text>
<text x="1115.5" y="563.6" font-size="14.3" font-weight="bold" fill="#858ba3" text-anchor="middle" textLength="15.4" lengthAdjust="spacingAndGlyphs">22</text>
<g filter="url(#sh2)"><rect x="44.5" y="528.2" width="13.4" height="23.4" rx="6.7" fill="#fff"/></g>
<path d="M49.5,536V544M52.5,536V544" stroke="#b0b4c0" stroke-width="1" fill="none"/>
<g filter="url(#sh2)"><rect x="1152.2" y="528.4" width="13.4" height="23.4" rx="6.7" fill="#fff"/></g>
<path d="M1156.5,535.7V543.5M1159.5,535.7V543.5" stroke="#8d919c" stroke-width="1" fill="none"/>
<rect x="1160" y="506" width="18" height="73" fill="#fff"/>
</g>
<g filter="url(#sh)"><path d="M825.5,181.8 H1190 V311.9 H825.5 a8,8 0 0 1 -8,-8 V189.8 a8,8 0 0 1 8,-8 Z" fill="#fff"/></g>
<rect x="1160" y="170" width="18" height="160" fill="#fff"/>
<text x="838.3" y="218" font-size="15" fill="#1a1d26" stroke="#1a1d26" stroke-width="0.3" textLength="73" lengthAdjust="spacingAndGlyphs">9/22/2021</text>
<text x="1073.2" y="217.5" font-size="13" fill="#7f8798" stroke="#7f8798" stroke-width="0.3" textLength="74.6" lengthAdjust="spacingAndGlyphs">8:39:31 AM</text>
<circle cx="846.5" cy="246.6" r="6.6" fill="#ea3943"/>
<text x="869.8" y="252.7" font-size="15" fill="#7f8798" stroke="#7f8798" stroke-width="0.4" textLength="40.4" lengthAdjust="spacingAndGlyphs">Price:</text>
<text x="914.4" y="252.7" font-size="15" font-weight="bold" fill="#14161c" textLength="59.4" lengthAdjust="spacingAndGlyphs">$356.37</text>
<path d="M840.8,269 H852.2 Q854,269 854,270.8 V274.6 Q854,275.6 853.2,276.3 L847.6,280.5 Q846.5,281.3 845.4,280.5 L839.8,276.3 Q839,275.6 839,274.6 V270.8 Q839,269 840.8,269 Z" fill="#a2a8bf"/>
<path d="M842.9,272.7 H850.1 L846.5,277.1 Z" fill="#fff" stroke="#fff" stroke-width="0.6" stroke-linejoin="round"/>
<text x="870.3" y="282.7" font-size="15" fill="#7f8798" stroke="#7f8798" stroke-width="0.4" textLength="56.8" lengthAdjust="spacingAndGlyphs">Vol 24h:</text>
<text x="932.2" y="282.7" font-size="15" font-weight="bold" fill="#14161c" textLength="48.4" lengthAdjust="spacingAndGlyphs">$1.95B</text>
<rect x="992" y="478.1" width="167.9" height="27.5" fill="#858ca2"/>
<text x="999.6" y="497.4" font-size="14.5" font-weight="bold" fill="#fff" textLength="147.6" lengthAdjust="spacingAndGlyphs">9/22/2021, 8:39:31 AM</text>
</svg></body></html>
